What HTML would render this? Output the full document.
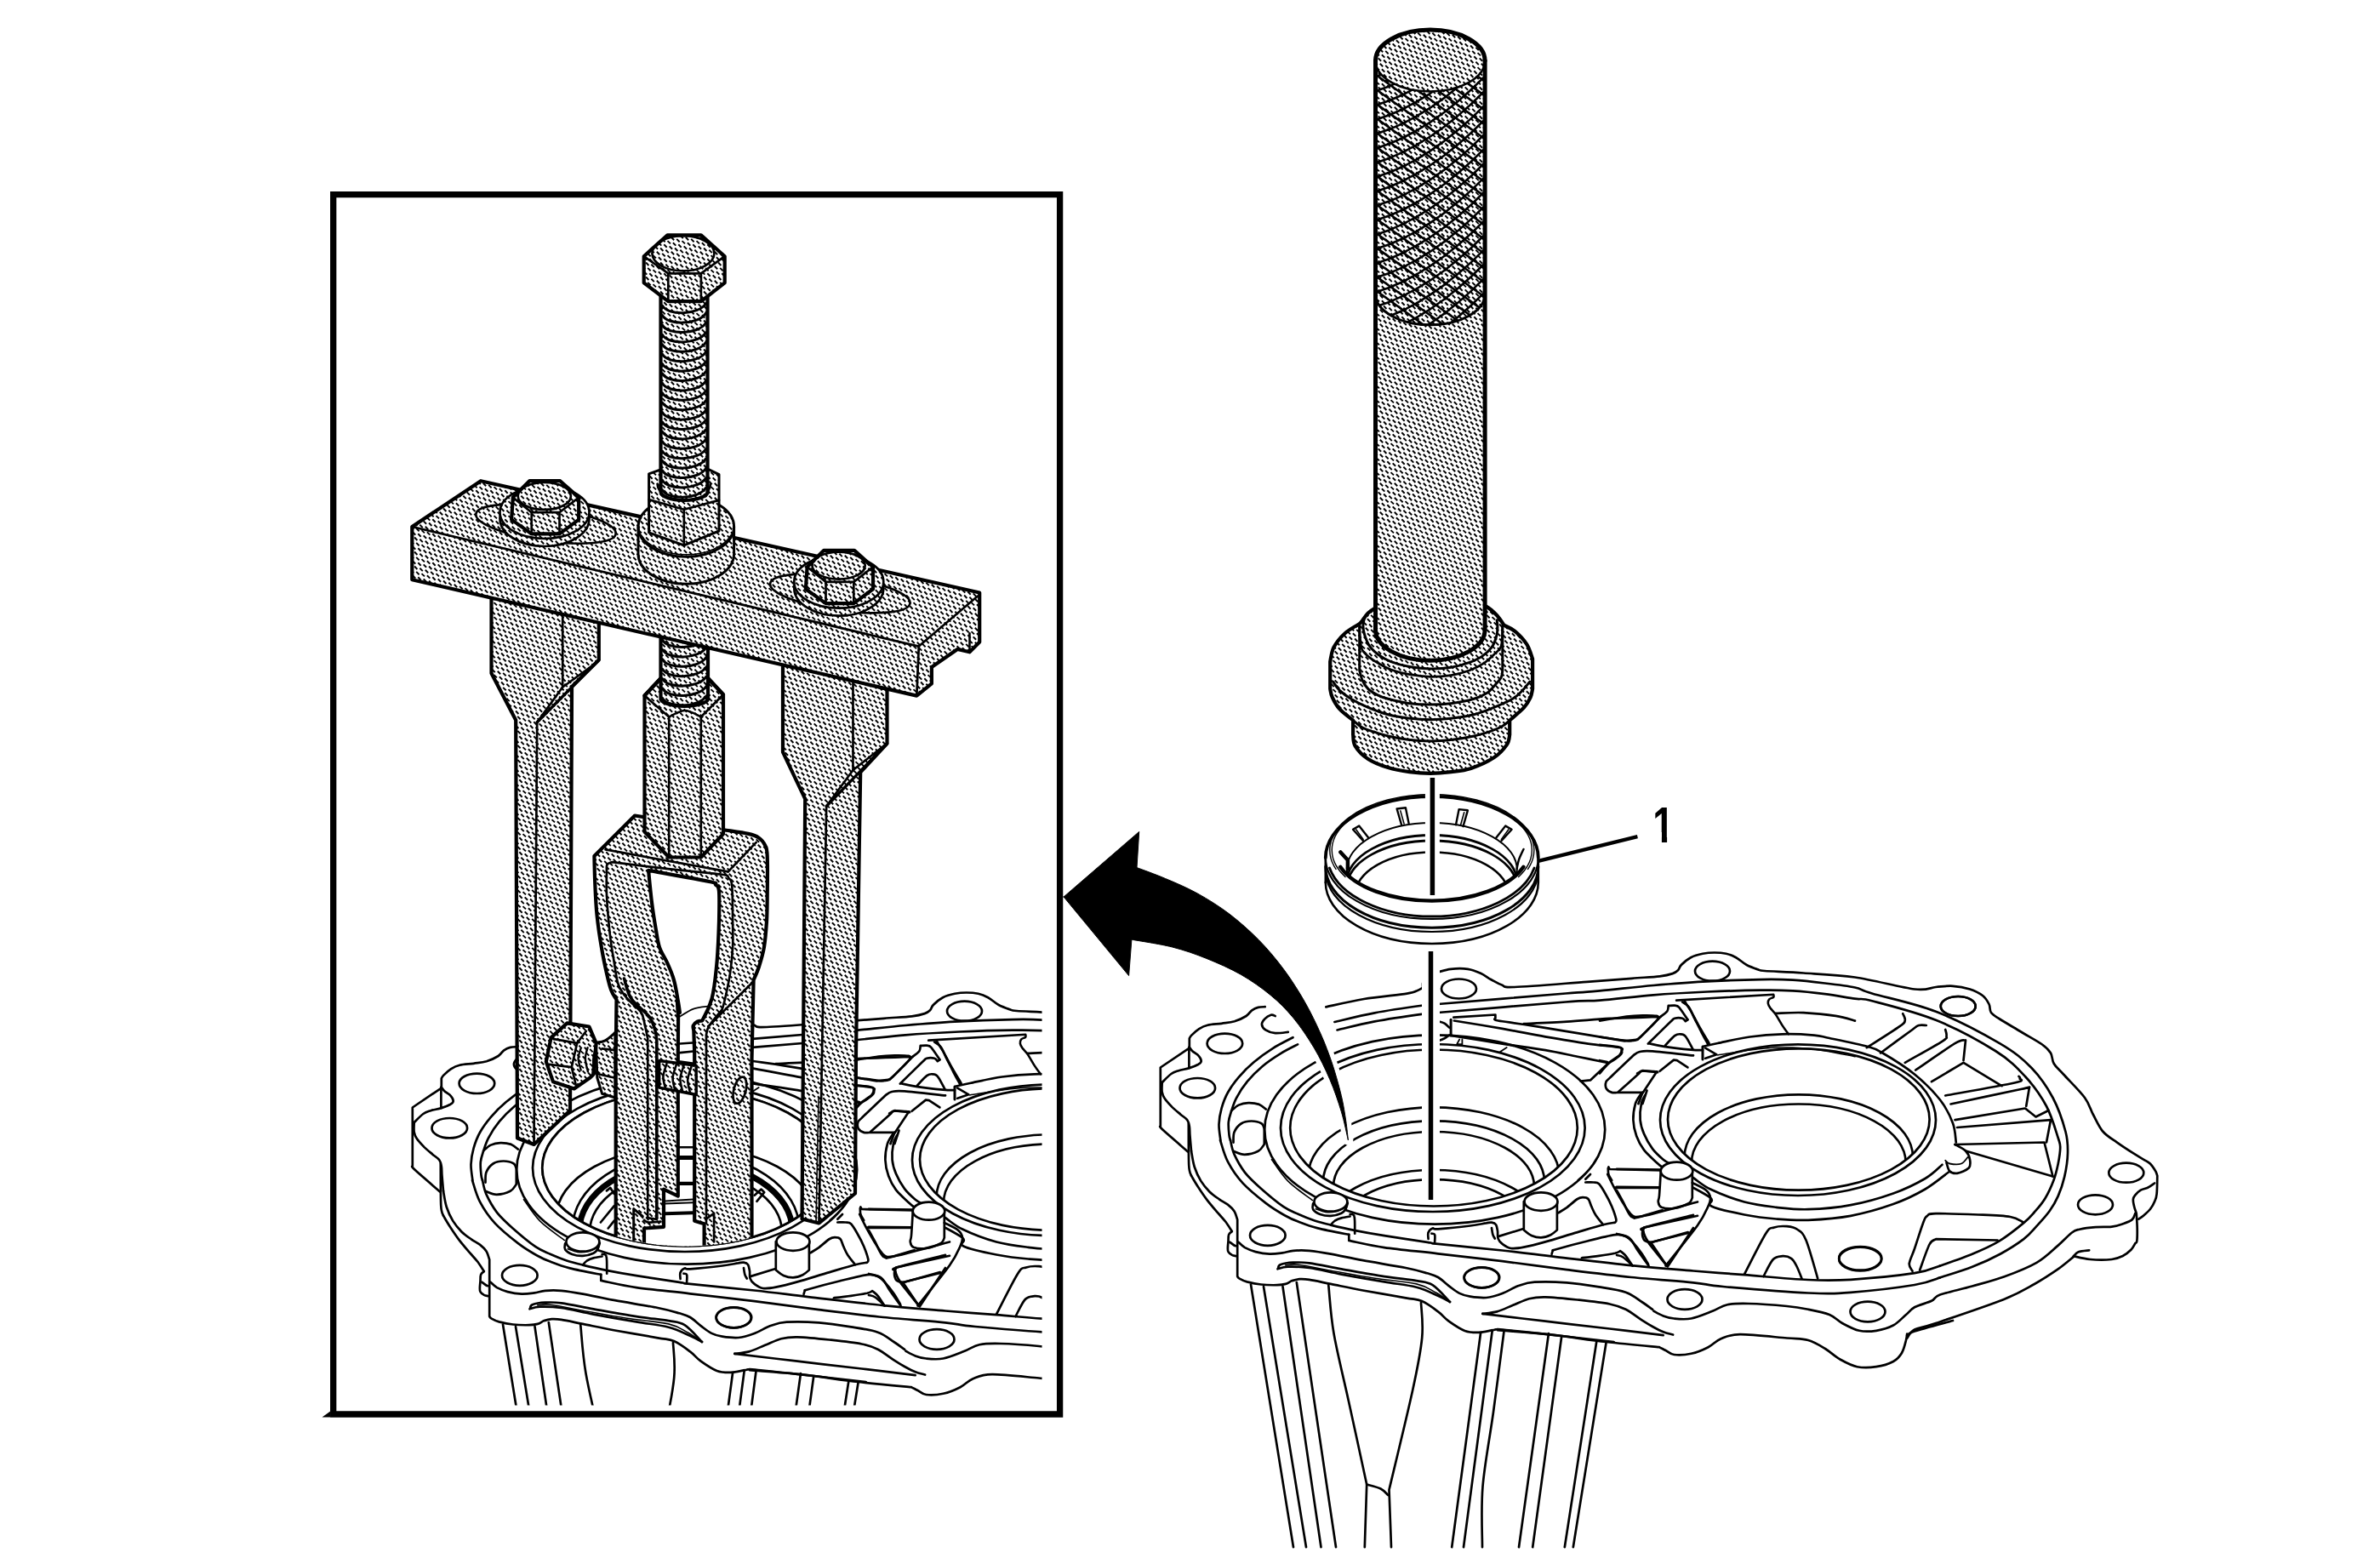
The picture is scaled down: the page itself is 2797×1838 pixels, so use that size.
<!DOCTYPE html><html><head><meta charset="utf-8"><title>diagram</title><style>html,body{margin:0;padding:0;background:#fff}svg{display:block}text{font-family:"Liberation Sans",sans-serif;font-weight:bold}</style></head><body>
<svg xmlns="http://www.w3.org/2000/svg" width="2797" height="1838" viewBox="0 0 2797 1838" fill="none" stroke="#000" stroke-width="2.7" stroke-linecap="round" stroke-linejoin="round">
<defs><pattern id="h" width="17" height="17" patternUnits="userSpaceOnUse"><rect width="17" height="17" fill="#fff" stroke="none"/><path d="M-6 2.5L-2.5 6M-6 19.6L-2.5 22.9M-3.8 8.9L-0.4 12.3M-1.7 -1.7L1.7 1.7M-1.7 15.3L1.7 18.7M0.4 4.7L3.8 8.1M2.5 -6L6 -2.5M2.5 11.1L6 14.4M4.7 0.4L8.1 3.8M4.7 17.4L8.1 20.8M6.8 6.8L10.2 10.2M8.9 -3.8L12.3 -0.4M8.9 13.2L12.3 16.6M11.1 2.5L14.4 6M11.1 19.6L14.4 22.9M13.2 8.9L16.6 12.3M15.3 -1.7L18.7 1.7M15.3 15.3L18.7 18.7M17.4 4.7L20.8 8.1M19.6 -6L22.9 -2.5M19.6 11.1L22.9 14.4" stroke="#000" stroke-width="1.95" stroke-linecap="butt" fill="none"/></pattern>
<clipPath id="cin"><rect x="395" y="232" width="829.5" height="1419.5"/></clipPath>
<g id="case"><path d="M1486.7 1183.2C1485.3 1183.3 1481.1 1183.1 1478.5 1183.9C1475.9 1184.6 1473.2 1186 1470.9 1187.6C1468.6 1189.3 1468 1191.8 1464.6 1194C1461.3 1196.1 1455.6 1198.8 1450.8 1200.3C1445.9 1201.7 1440.9 1202 1435.6 1202.8C1430.4 1203.5 1423.7 1203.6 1419.2 1204.7C1414.8 1205.7 1412.3 1207.1 1409.2 1209.1C1406 1211.1 1402.2 1214.7 1400.3 1216.6C1398.4 1218.5 1398.2 1219.8 1397.8 1220.4L1397.8 1230.5C1398.4 1231.3 1399.8 1233.9 1401.6 1235.5C1403.4 1237.2 1406.9 1238.7 1408.5 1240.6C1410.2 1242.5 1411.7 1245.2 1411.7 1246.9C1411.7 1248.6 1410.8 1249.3 1408.5 1250.7C1406.2 1252 1401.7 1253.8 1397.8 1255.1C1393.9 1256.3 1388.8 1257.1 1385.2 1258.2C1381.6 1259.4 1379.6 1259.7 1376.4 1262C1373.1 1264.3 1367.5 1270.4 1365.7 1272.1"/>
<path d="M1397.4 1230.5L1397.4 1255.1"/>
<path d="M1397.4 1231.8L1363.8 1254.5L1363.8 1323.2C1364.2 1323.9 1360.9 1322.5 1366.3 1327.6C1371.7 1332.6 1391 1349.1 1395.9 1353.4"/>
<path d="M1365.7 1272.1C1365.7 1274 1365.1 1280.3 1365.7 1283.5C1366.2 1286.6 1366.8 1288.1 1368.8 1291C1370.8 1294 1374.5 1297.9 1377.6 1301.1C1380.8 1304.2 1384.8 1307.4 1387.7 1309.9C1390.7 1312.4 1393.6 1313.9 1395.3 1316.2C1397 1318.5 1397.3 1320.8 1397.8 1323.8C1398.3 1326.7 1398.1 1329.1 1398.4 1333.9C1398.8 1338.7 1399.7 1349.5 1400 1352.6"/>
<path d="M1396.8 1320.6C1396.9 1328.7 1396.7 1359 1397.2 1369.2C1397.7 1379.3 1399.5 1379.5 1400 1381.6"/>
<ellipse cx="1439.4" cy="1226.3" rx="20.8" ry="11.7"/>
<ellipse cx="1407.3" cy="1278.7" rx="20.8" ry="11.7"/>
<path d="M1498.7 1194C1497.8 1193.7 1495.7 1192.1 1493.6 1192.7C1491.5 1193.3 1487.8 1195.8 1486.1 1197.7C1484.3 1199.6 1482.7 1201.9 1482.9 1204C1483.1 1206.1 1484.7 1208.7 1487.3 1210.3C1489.9 1212 1494.2 1213.7 1498.7 1214.1C1503.1 1214.5 1511.3 1213.1 1513.8 1212.9"/>
<path d="M1519.5 1219.2C1515.6 1221.3 1503.8 1226.9 1496.1 1231.8C1488.5 1236.6 1480.2 1242.5 1473.5 1248.2C1466.7 1253.8 1460.8 1259.9 1455.8 1265.8C1450.8 1271.7 1446.6 1277.4 1443.2 1283.5C1439.8 1289.5 1437.4 1296.1 1435.6 1302.4C1433.8 1308.7 1432.7 1315 1432.5 1321.3C1432.3 1327.6 1434.1 1337 1434.4 1340.2"/>
<path d="M1525.1 1227.4C1521.8 1229.1 1511.9 1233.8 1505 1238.1C1498 1242.4 1490 1247.7 1483.5 1253.2C1477 1258.7 1470.9 1264.8 1465.9 1270.8C1460.8 1276.9 1456.4 1283.9 1453.3 1289.8C1450.1 1295.6 1448.6 1301.3 1447 1306.1C1445.4 1311 1444.2 1314.1 1443.8 1318.7C1443.4 1323.4 1444.1 1330.3 1444.5 1333.9C1444.8 1337.4 1445.7 1339 1446 1340"/>
<path d="M1447 1305.5C1448.4 1304.4 1452.4 1300.2 1455.8 1298.6C1459.2 1297 1463.2 1296.2 1467.1 1296.1C1471.1 1296 1476.3 1296.7 1479.8 1297.9C1483.2 1299.2 1486.6 1302.7 1487.9 1303.6"/>
<path d="M1449.5 1342.7C1449.7 1340.7 1449 1334.3 1450.5 1330.6C1452 1326.9 1455.2 1322.7 1458.6 1320.5C1461.9 1318.3 1466.6 1317.5 1470.7 1317.5C1474.7 1317.5 1480.3 1319 1482.8 1320.5C1485.3 1322 1485.3 1325.6 1485.8 1326.6L1485.8 1344.7C1484.6 1346.1 1482.6 1350.8 1478.7 1352.8C1474.9 1354.8 1467.5 1356.8 1462.6 1356.8C1457.7 1356.8 1451.7 1353.5 1449.5 1352.8"/>
<ellipse cx="1686.2" cy="1327.5" rx="200" ry="111.2"/>
<ellipse cx="1683.8" cy="1325.5" rx="178.8" ry="98.5"/>
<ellipse cx="1685" cy="1325.5" rx="168.8" ry="92"/>
<clipPath id="e3"><ellipse cx="1685.0" cy="1325.5" rx="168.8" ry="92.0"/></clipPath>
<g clip-path="url(#e3)"><ellipse cx="1685" cy="1381.8" rx="147.5" ry="80.5"/><ellipse cx="1685" cy="1388.2" rx="130" ry="70.8"/><ellipse cx="1685" cy="1394.2" rx="118" ry="64.2"/><ellipse cx="1685" cy="1445.8" rx="130" ry="70.8"/><ellipse cx="1685" cy="1449" rx="115" ry="62.8"/></g>
<ellipse cx="2113" cy="1316.2" rx="162" ry="88.8"/>
<ellipse cx="2113.8" cy="1315.5" rx="153.8" ry="83.2"/>
<clipPath id="f3"><ellipse cx="2113.8" cy="1315.5" rx="153.8" ry="83.2"/></clipPath>
<g clip-path="url(#f3)"><ellipse cx="2113.8" cy="1359.5" rx="134.2" ry="73.2"/><ellipse cx="2113.8" cy="1366" rx="125.8" ry="68.5"/></g>
<path d="M1400 1381.6C1401.3 1383.7 1404.4 1389.4 1407.6 1394.2C1410.7 1399 1414.9 1405.3 1418.9 1410.6C1422.9 1415.8 1427.9 1421.5 1431.5 1425.7C1435.1 1429.9 1437.6 1432.2 1440.3 1435.8C1443.1 1439.4 1446.6 1445.3 1447.9 1447.1C1447.3 1447.8 1444.9 1449 1444.1 1450.9C1443.4 1452.8 1443.7 1456 1443.5 1458.5C1443.3 1461 1442.9 1464 1442.9 1466.1C1442.9 1468.2 1442.6 1469.6 1443.5 1471.1C1444.3 1472.6 1446.4 1474 1447.9 1474.9C1449.4 1475.7 1451.6 1475.9 1452.3 1476.1"/>
<path d="M1445.4 1459.8C1446.2 1460.4 1449.3 1462.8 1450.4 1463.5C1451.6 1464.3 1452 1464.1 1452.3 1464.2"/>
<path d="M1434 1340C1435.5 1344.2 1438.4 1356.8 1442.9 1365.2C1447.3 1373.6 1452.9 1382.2 1460.5 1390.4C1468.1 1398.6 1480 1408.1 1488.2 1414.4C1496.4 1420.7 1503.4 1424.7 1509.7 1428.2C1516 1431.8 1519.5 1433.3 1526.1 1435.8C1532.6 1438.3 1538.9 1440.8 1548.7 1443.4C1558.6 1445.9 1579.2 1449.7 1585.3 1450.9"/>
<path d="M1494.5 1362.7C1497.7 1366.9 1505.5 1379.9 1513.5 1387.9C1521.4 1395.9 1537.6 1406.8 1542.4 1410.6" stroke-width="1.6"/>
<path d="M1543.1 1414.4C1543.1 1415.5 1541.7 1419.2 1543.1 1421.3C1544.4 1423.4 1547.8 1425.7 1551.3 1427C1554.7 1428.2 1559.7 1429.1 1563.9 1428.9C1568.1 1428.7 1573.5 1427.1 1576.5 1425.7C1579.4 1424.4 1580.3 1422.7 1581.5 1420.7C1582.7 1418.7 1583.4 1414.9 1583.8 1413.7L1543.1 1414.4Z" fill="#fff"/>
<ellipse cx="1563.9" cy="1412.5" rx="19.5" ry="11.1" fill="#fff"/>
<path d="M1546.2 1420.7C1548.1 1421.3 1553.6 1423.9 1557.6 1424.5C1561.6 1425 1566.4 1424.8 1570.2 1423.8C1574 1422.9 1578.6 1419.6 1580.3 1418.8" stroke-width="1.6"/>
<path d="M1563.9 1439.6C1564.7 1438.7 1566.8 1435.9 1568.9 1434.5C1571 1433.2 1573.5 1432.2 1576.5 1431.4C1579.4 1430.6 1584.9 1429.8 1586.6 1429.5"/>
<path d="M1586.6 1427C1587.4 1427.4 1590.7 1425.7 1591.6 1429.5C1592.6 1433.3 1592.1 1446.3 1592.2 1449.7"/>
<ellipse cx="1489.8" cy="1451.8" rx="20.8" ry="12"/>
<path d="M1682.4 1449.7C1683 1449.9 1685.5 1449.2 1686.1 1450.9C1686.8 1452.6 1686.1 1458.3 1686.1 1459.8"/>
<path d="M1753 1443C1753.2 1444.3 1753.7 1448.5 1754.3 1450.6C1754.9 1452.7 1756.4 1454.8 1756.8 1455.6"/>
<path d="M1760.6 1453.1L1789.6 1444.3"/>
<path d="M1831.2 1425.4C1832.9 1424.3 1837.5 1421.8 1841.3 1419.1C1845 1416.3 1850.7 1411 1853.9 1409C1857 1407 1858.1 1407.1 1860.2 1407.1C1862.3 1407.1 1864.8 1407.2 1866.5 1409C1868.2 1410.8 1868.8 1414.7 1870.3 1417.8C1871.7 1421 1873 1424.3 1875.3 1427.9C1877.6 1431.5 1882.7 1437.4 1884.1 1439.2"/>
<path d="M1823.6 1473.9C1823.8 1473.3 1824 1471.1 1824.9 1470.1C1825.7 1469.2 1821.7 1470.2 1828.7 1468.2C1835.6 1466.2 1854.9 1461 1866.5 1458.2C1878 1455.3 1890.6 1452.1 1898 1451.2C1905.3 1450.4 1907 1451.5 1910.6 1453.1C1914.2 1454.7 1916.3 1457.3 1919.4 1460.7C1922.6 1464 1926.6 1469.1 1929.5 1473.3C1932.4 1477.5 1935.8 1483.8 1937.1 1485.9"/>
<path d="M1858.9 1478.3C1862.3 1477.9 1872.6 1476.7 1879.1 1475.8C1885.6 1474.9 1893.8 1473.6 1898 1472.7C1902.2 1471.7 1903.2 1470.6 1904.3 1470.1C1905.3 1471.1 1908.3 1473 1910.6 1475.8C1912.9 1478.6 1916.9 1485.3 1918.2 1487.1"/>
<path d="M1990 1427.9C1980.6 1430.3 1943.1 1439.2 1933.3 1442.4C1923.5 1445.5 1931.4 1445 1931.4 1446.8C1931.4 1448.6 1932.1 1450.6 1933.3 1453.1C1934.4 1455.6 1937.5 1460.5 1938.3 1461.9L1958.5 1487.1"/>
<path d="M1938.3 1460.7L1983.7 1448.1"/>
<path d="M1990 1443L1959.8 1488.4"/>
<path d="M1889.2 1380C1890.4 1382.5 1893.8 1389.7 1896.7 1395.1C1899.7 1400.6 1903.9 1407.9 1906.8 1412.8C1909.8 1417.6 1912.1 1421.3 1914.4 1424.1C1916.7 1427 1918.2 1429 1920.7 1429.8C1923.2 1430.6 1924 1430.4 1929.5 1429.2C1935 1427.9 1949.5 1423.4 1953.5 1422.2"/>
<path d="M1898 1395.8L1949.7 1395.8" stroke-width="3"/>
<path d="M1863.3 1385.7L1869 1380"/>
<ellipse cx="1741.4" cy="1501.3" rx="20.8" ry="12"/>
<path d="M1742.3 1543.9C1745.1 1543.5 1753.3 1543 1759.3 1541.4C1765.3 1539.7 1771.9 1536.3 1778.2 1533.8C1784.5 1531.3 1790.8 1527.8 1797.1 1526.2C1803.5 1524.6 1806.6 1524.1 1816.1 1524.3C1825.5 1524.5 1841.3 1526.1 1853.9 1527.5C1866.5 1528.9 1882.2 1530.6 1891.7 1532.5C1901.1 1534.4 1904.3 1535.7 1910.6 1538.8C1916.9 1542 1924.3 1548.1 1929.5 1551.4C1934.8 1554.8 1937.9 1556.7 1942.1 1559C1946.3 1561.3 1950.7 1563.7 1954.7 1565.3C1958.7 1566.9 1964.2 1567.9 1966.1 1568.5"/>
<path d="M1742.3 1543.9C1754.6 1545.3 1791.2 1549.8 1816.1 1552.7C1841 1555.6 1868.6 1558.8 1891.7 1561.5C1914.8 1564.3 1944.2 1567.8 1954.7 1569.1"/>
<path d="M1790.8 1412.1L1790.8 1445.5C1792.3 1446.6 1796.3 1450.4 1799.7 1451.9C1803 1453.3 1807.2 1454.5 1811 1454.4C1814.8 1454.3 1819.2 1452.7 1822.4 1451.2C1825.5 1449.8 1828.7 1446.5 1829.9 1445.5L1829.9 1412.1L1790.8 1412.1Z" fill="#fff"/>
<ellipse cx="1811" cy="1412.1" rx="19.5" ry="10.7" fill="#fff"/>
<path d="M1400 1352.6C1400.6 1355.8 1401.9 1365.6 1403.8 1371.5C1405.7 1377.4 1408.4 1383.1 1411.3 1387.9C1414.3 1392.7 1417.9 1396.9 1421.4 1400.5C1425 1404.1 1429.2 1406.8 1432.8 1409.3C1436.3 1411.9 1439.9 1413.3 1442.9 1415.6C1445.8 1417.9 1448.5 1420.3 1450.4 1423.2C1452.3 1426.1 1453.6 1431.6 1454.2 1433.3L1454.2 1500.1C1454.6 1500.5 1454.8 1501.6 1456.7 1502.6C1458.6 1503.7 1461.3 1505.2 1465.5 1506.4C1469.8 1507.5 1476.1 1508.9 1481.9 1509.5C1487.8 1510.2 1496 1510.3 1500.8 1510.2C1505.7 1510.1 1508 1509.8 1510.9 1508.9C1513.9 1508.1 1515.8 1506.1 1518.5 1505.1C1521.2 1504.2 1524 1503.5 1527.3 1503.2C1530.7 1503 1532.6 1502.9 1538.7 1503.9C1544.8 1504.8 1553.4 1506.8 1563.9 1508.9C1574.4 1511 1587 1513.7 1601.7 1516.5C1616.4 1519.2 1640.6 1523.2 1652.1 1525.3C1663.7 1527.4 1664.7 1526.4 1671 1529.1C1677.3 1531.8 1684.7 1537.4 1690 1541.4C1695.3 1545.3 1697.4 1548.9 1702.6 1552.7C1707.9 1556.5 1715.6 1561.8 1721.5 1564C1727.4 1566.2 1732.6 1566 1737.9 1565.9C1743.2 1565.8 1749.5 1564 1753 1563.4C1756.6 1562.8 1756.8 1562.3 1759.3 1562.2C1761.9 1562 1766.7 1562.7 1768.2 1562.8C1776.1 1563.6 1794.6 1565.4 1816.1 1567.8C1837.5 1570.2 1883.3 1575.6 1896.7 1577.2"/>
<path d="M1446 1340C1446.7 1342.7 1447.6 1350.1 1450.4 1356.4C1453.3 1362.7 1457.8 1371.1 1463 1377.8C1468.3 1384.5 1474.4 1390 1481.9 1396.7C1489.5 1403.4 1501.1 1413.1 1508.4 1418.2C1515.8 1423.2 1520 1424.2 1526.1 1427C1532.1 1429.7 1538.7 1432.4 1545 1434.5C1551.3 1436.6 1556.1 1437.7 1563.9 1439.6C1571.6 1441.5 1581.1 1443.8 1591.6 1445.9C1602.1 1448 1612.6 1449.9 1626.9 1452.2C1641.2 1454.5 1666.8 1458.1 1677.3 1459.8C1687.8 1461.4 1675.3 1460.3 1690 1461.9C1704.7 1463.6 1742.5 1467 1765.6 1469.5C1788.7 1472 1803.5 1474.1 1828.7 1477.1C1853.9 1480 1890 1484.4 1916.9 1487.1C1943.8 1489.9 1967.8 1491.6 1990 1493.5C2012.2 1495.3 2027.5 1496.5 2050 1498.2C2072.5 1500 2104.2 1503.1 2125 1504C2145.8 1504.9 2154.2 1505 2175 1503.8C2195.8 1502.5 2232.5 1498.9 2250 1496.2C2267.5 1493.6 2275 1489 2280 1487.6"/>
<path d="M1585.3 1450.9L1585.3 1457.9C1592.2 1459.2 1609.5 1463.5 1626.9 1466.1C1644.3 1468.6 1666.9 1470.6 1690 1473.3C1713.1 1476 1740.4 1479 1765.6 1482.1C1790.8 1485.3 1816.1 1489 1841.3 1492.2C1866.5 1495.3 1892.1 1498.5 1916.9 1501C1941.7 1503.5 1972 1505.5 1990 1507.3C2008 1509.1 2002.5 1510 2025 1512C2047.5 1514 2100 1518.4 2125 1519.5C2150 1520.6 2154.2 1520.3 2175 1518.8C2195.8 1517.2 2232.5 1512.9 2250 1510C2267.5 1507.1 2275 1502.9 2280 1501.4"/>
<path d="M1455.5 1459.8C1456.7 1460.8 1459.7 1464.2 1463 1466.1C1466.4 1467.9 1470.8 1469.8 1475.6 1471.1C1480.5 1472.4 1486.8 1473.4 1492 1473.6C1497.3 1473.8 1502.5 1473 1507.1 1472.4C1511.8 1471.7 1514.5 1470.3 1519.8 1469.8C1525 1469.4 1531.3 1469.2 1538.7 1469.8C1546 1470.5 1553.4 1471.7 1563.9 1473.6C1574.4 1475.5 1587 1478.5 1601.7 1481.2C1616.4 1483.9 1639.5 1487.5 1652.1 1490C1664.7 1492.5 1671 1494.5 1677.3 1496.3C1683.6 1498.1 1685.8 1498.5 1690 1501C1694.2 1503.5 1698.4 1507.9 1702.6 1511.1C1706.8 1514.2 1711 1517.8 1715.2 1519.9C1719.4 1522 1722.6 1522.9 1727.8 1523.7C1733.1 1524.5 1740.4 1525.6 1746.7 1525C1753 1524.3 1759.3 1522.2 1765.6 1519.9C1771.9 1517.6 1778.2 1513.3 1784.5 1511.1C1790.8 1508.9 1794 1507.3 1803.5 1506.7C1812.9 1506.1 1828.7 1506.4 1841.3 1507.3C1853.9 1508.3 1867.5 1510.5 1879.1 1512.4C1890.6 1514.2 1902.2 1515.7 1910.6 1518.7C1919 1521.6 1924.3 1526.6 1929.5 1530C1934.8 1533.4 1940 1537.4 1942.1 1538.8"/>
<path d="M1502.1 1490.6C1502.5 1489.9 1501.7 1487.4 1504.6 1486.2C1507.6 1485.1 1514.1 1484 1519.8 1483.7C1525.4 1483.4 1529.2 1483.1 1538.7 1484.3C1548.1 1485.6 1561.8 1488.6 1576.5 1491.3C1591.2 1493.9 1612.2 1497.8 1626.9 1500.1C1641.6 1502.4 1655.3 1503.5 1664.7 1505.1C1674.2 1506.8 1677.1 1506 1683.6 1510.2C1690.2 1514.3 1700.6 1526.7 1704 1530"/>
<path d="M1501.5 1491.3C1503.5 1490.8 1507.3 1489 1513.5 1488.7C1519.6 1488.5 1528.2 1488.5 1538.7 1490C1549.2 1491.5 1561.8 1494.8 1576.5 1497.6C1591.2 1500.3 1612.2 1503.9 1626.9 1506.4C1641.6 1508.9 1654.2 1510 1664.7 1512.7C1675.2 1515.4 1683.4 1519.9 1689.9 1522.8C1696.5 1525.7 1701.7 1528.8 1704 1530"/>
<path d="M1510.9 1486.9C1513.5 1486.7 1517.2 1485.2 1526.1 1486.2C1534.9 1487.3 1549.2 1490.5 1563.9 1493.2C1578.6 1495.8 1597.5 1499.4 1614.3 1502C1631.1 1504.6 1652.5 1506.1 1664.7 1508.9C1676.9 1511.8 1680.9 1515.5 1687.4 1519C1694 1522.5 1701.2 1528.2 1704 1530" stroke-width="1.6"/>
<path d="M1678.6 1456C1678.6 1454.7 1677.7 1450.5 1678.6 1448.4C1679.4 1446.3 1681.7 1444.1 1683.6 1443.4C1685.5 1442.7 1682.6 1444.8 1690 1444.3C1697.4 1443.8 1718.4 1441.7 1727.8 1440.5C1737.3 1439.4 1742.5 1438 1746.7 1437.4C1750.9 1436.7 1751.1 1436.4 1753 1436.7C1754.9 1437 1756.9 1437.6 1758.1 1439.2C1759.2 1440.9 1759.5 1444.1 1760 1446.8C1760.4 1449.5 1759.6 1453.1 1760.6 1455.6C1761.5 1458.2 1763.1 1460 1765.6 1461.9C1768.2 1463.8 1771.5 1466.3 1775.7 1467C1779.9 1467.6 1784.1 1467 1790.8 1465.7C1797.6 1464.5 1805.6 1462.4 1816.1 1459.4C1826.6 1456.5 1842.5 1451.4 1853.9 1448.1C1865.2 1444.7 1876.8 1441.1 1884.1 1439.2C1891.5 1437.4 1895.7 1437.1 1898 1436.7C1898.2 1436.1 1899.9 1436.1 1899.3 1432.9C1898.6 1429.8 1896.3 1422.9 1894.2 1417.8C1892.1 1412.8 1889.2 1407.1 1886.6 1402.7C1884.1 1398.3 1881.4 1393.6 1879.1 1391.3C1876.8 1389.1 1875.4 1389.8 1872.8 1389.5C1870.2 1389.1 1864.9 1389.5 1863.3 1389.5"/>
<path d="M1690 1200.1C1691.3 1200.5 1695.4 1201.3 1697.6 1202.6C1699.8 1203.9 1702.3 1206.8 1703.2 1207.6"/>
<path d="M1703.2 1216.5C1702.3 1217.1 1699.8 1219.1 1697.6 1220.3C1695.4 1221.4 1691.3 1222.9 1690 1223.4"/>
<path d="M1705.1 1198.2L1705.1 1217.1" stroke-width="3"/>
<path d="M1790.8 1203.2C1799.2 1202.8 1824.5 1201.8 1841.3 1200.7C1858.1 1199.7 1874 1197.9 1891.7 1196.9C1909.3 1196 1937.9 1195.4 1947.2 1195C1947.4 1195.5 1951.6 1193.7 1948.4 1197.6C1945.3 1201.5 1932.9 1214.3 1928.2 1218.4C1923.6 1222.5 1923.8 1221.3 1920.7 1222.1C1917.5 1223 1911.2 1223.2 1909.3 1223.4C1891.7 1220.5 1828.2 1209.7 1803.5 1205.8C1778.7 1201.8 1768.3 1201 1760.6 1199.5C1752.9 1197.9 1758 1196.8 1757.4 1196.3L1757.4 1192.5L1708.3 1195.7"/>
<path d="M1708.9 1199.5C1718.4 1201 1747.8 1205.8 1765.6 1208.9C1783.5 1212.1 1799.2 1215.4 1816.1 1218.4C1832.9 1221.3 1852 1224.5 1866.5 1226.6C1881 1228.7 1896.5 1229.5 1903 1231C1909.5 1232.4 1905.6 1233.8 1905.6 1235.4C1905.6 1237 1903.5 1239.6 1903 1240.4L1890.4 1249.2L1869 1269.4L1857.7 1270.7"/>
<path d="M1706.4 1217.1C1716.3 1218.7 1747.4 1223.7 1765.6 1226.6C1783.9 1229.4 1801.3 1231.6 1816.1 1234.1C1830.8 1236.6 1841.5 1239.2 1853.9 1241.7C1866.3 1244.2 1884.3 1248 1890.4 1249.2"/>
<path d="M1715.2 1221.5L1712.1 1227.2L1718.4 1227.2L1718.4 1221.5" stroke-width="1.8"/>
<path d="M1770.7 1231L1763.1 1236" stroke-width="1.8"/>
<path d="M1990 1240.4C1982 1239.6 1952.6 1236.1 1942.1 1235.4C1931.6 1234.6 1930.8 1235.2 1927 1236C1923.2 1236.9 1920.7 1239.7 1919.4 1240.4C1914.8 1244.8 1897 1261.6 1891.7 1266.9C1886.3 1272.1 1887.9 1269.8 1887.3 1271.9C1886.6 1274 1886.8 1277.5 1887.9 1279.5C1889.1 1281.5 1891.9 1283.2 1894.2 1283.9C1896.5 1284.6 1900.5 1283.9 1901.8 1283.9L1930.8 1283.9"/>
<path d="M1901.8 1283.3C1905.6 1279.9 1919.8 1267.2 1924.5 1263.1C1929.1 1259 1925.7 1259.3 1929.5 1258.7C1933.3 1258.1 1944.2 1259.2 1947.2 1259.3"/>
<path d="M1947.2 1259.3L1930.8 1283.9"/>
<path d="M1928.2 1285.8C1927.2 1287.7 1923.4 1292.1 1921.9 1297.1C1920.5 1302.2 1919.2 1309.8 1919.4 1316.1C1919.6 1322.4 1921.1 1329.1 1923.2 1335C1925.3 1340.8 1928 1346.1 1932 1351.4C1936 1356.6 1943.4 1362.9 1947.2 1366.5C1950.9 1370 1953.5 1371.7 1954.7 1372.8"/>
<path d="M1933.3 1287.1C1932.6 1288.7 1929.8 1292.3 1928.9 1297.1C1927.9 1302 1927.1 1310.2 1927.6 1316.1C1928.1 1321.9 1929.6 1326.8 1932 1332.4C1934.4 1338.1 1938.3 1345 1942.1 1350.1C1945.9 1355.1 1950.9 1359.5 1954.7 1362.7C1958.5 1365.8 1963.1 1367.9 1964.8 1369"/>
<path d="M1890.4 1371.5L1891.7 1374L1952.2 1375.3"/>
<path d="M1889.8 1372.8C1889.9 1374 1889.7 1377.9 1890.4 1380.3C1891.2 1382.7 1893.6 1386 1894.2 1387.2"/>
<path d="M1879.1 1357.7C1877.8 1359.8 1875.7 1365.3 1871.5 1370.3C1867.3 1375.2 1856.8 1384.3 1853.9 1387.2" stroke-width="1.6"/>
<path d="M1558.3 1183.4C1565.8 1181.8 1587.1 1176.6 1603 1174C1618.9 1171.4 1643 1169.3 1653.5 1167.6C1664 1165.9 1662.9 1165.1 1666 1163.9C1669.1 1162.8 1671 1161.2 1672 1160.7L1672 1155.7"/>
<path d="M1690 1142.5C1692.5 1141.9 1699.2 1139.4 1705 1138.8C1710.8 1138.1 1719.2 1137.9 1725 1138.8C1730.8 1139.6 1735.4 1141.7 1740 1143.8C1744.6 1145.8 1748.3 1149 1752.5 1151.2C1756.7 1153.5 1760.4 1156 1765 1157.5C1769.6 1159 1763.3 1160.6 1780 1160C1796.7 1159.4 1842 1155.5 1865 1153.8C1888 1152 1903.6 1150.9 1917.8 1149.8C1932.1 1148.7 1942.6 1148.2 1950.6 1147.3C1958.6 1146.3 1962.1 1145.3 1965.7 1144.1C1969.3 1143 1970.3 1142 1972 1140.3C1973.7 1138.7 1973.3 1136.6 1975.8 1134C1978.3 1131.5 1982.9 1127.4 1987.1 1125.2C1991.3 1123 1996.4 1121.7 2001 1120.8C2005.6 1119.9 2010.3 1119.5 2014.9 1119.5C2019.5 1119.5 2024.5 1119.9 2028.7 1120.8C2032.9 1121.7 2036.1 1123 2040.1 1125.2C2044.1 1127.4 2048.5 1131.7 2052.7 1134C2056.9 1136.3 2061.7 1137.9 2065.3 1139.1C2068.9 1140.2 2065.1 1140.2 2074.1 1141C2083.2 1141.7 2101.9 1142.2 2119.5 1143.5C2137.2 1144.7 2158.3 1145.4 2180 1148.5C2201.8 1151.7 2234.2 1160.6 2250 1162.5C2265.8 1164.4 2267.5 1160.6 2275 1160C2282.5 1159.4 2288.3 1158.3 2295 1158.8C2301.7 1159.2 2309.2 1160.6 2315 1162.5C2320.8 1164.4 2326.2 1167.1 2330 1170C2333.8 1172.9 2335.8 1176.7 2337.5 1180C2339.2 1183.3 2337.9 1187.1 2340 1190C2342.1 1192.9 2344.2 1193.8 2350 1197.5C2355.8 1201.2 2366.7 1207.5 2375 1212.5C2383.3 1217.5 2394.2 1223.3 2400 1227.5C2405.8 1231.7 2407.7 1233.8 2410 1237.5C2412.3 1241.2 2411.2 1245.8 2413.8 1250C2416.2 1254.2 2419 1255.8 2425 1262.5C2431 1269.2 2444.2 1282.1 2450 1290C2455.8 1297.9 2456.4 1303.3 2460 1310C2463.6 1316.7 2466.9 1324.6 2471.6 1330C2476.3 1335.4 2482.1 1338.4 2488 1342.6C2493.9 1346.8 2501.6 1351.8 2506.9 1355.2C2512.2 1358.6 2516.1 1360.7 2519.5 1362.8C2522.9 1364.9 2524.8 1365.5 2527.1 1367.8C2529.4 1370.1 2532 1374.3 2533.4 1376.6C2534.7 1379 2534.9 1380.8 2535.3 1381.7C2535.2 1385.3 2535.2 1398.1 2534.6 1403.1C2534.1 1408.2 2533.4 1409 2532.1 1411.9C2530.9 1414.9 2529.2 1418 2527.1 1420.8C2525 1423.5 2521.8 1426.3 2519.5 1428.3C2517.2 1430.3 2514.3 1432 2513.2 1432.7"/>
<ellipse cx="1714.5" cy="1162" rx="20.5" ry="11.5"/>
<ellipse cx="2012.5" cy="1141.2" rx="20.5" ry="11.5"/>
<path d="M1568.4 1201C1576.3 1199.2 1598.3 1193.5 1615.6 1190.3C1632.9 1187 1660 1183.2 1672.4 1181.5C1684.8 1179.8 1662.1 1182.3 1690 1180C1717.9 1177.7 1808.3 1170.1 1840 1167.5C1871.7 1164.9 1862.8 1165.9 1880 1164.3C1897.2 1162.7 1922.9 1159.8 1943 1158C1963.2 1156.2 1980 1154.7 2001 1153.6C2022 1152.4 2051.4 1151.4 2069.1 1151.1C2086.7 1150.7 2094.3 1150.9 2106.9 1151.7C2119.5 1152.4 2132.5 1154 2144.7 1155.5C2156.9 1156.9 2170.8 1158.5 2180 1160.5C2189.2 1162.5 2184.2 1162.8 2200 1167.5C2215.8 1172.2 2250 1179 2275 1188.8C2300 1198.5 2331.2 1215.2 2350 1226.2C2368.8 1237.3 2377.1 1244.4 2387.5 1255C2397.9 1265.6 2405.8 1277.5 2412.5 1290C2419.2 1302.5 2424.6 1319.1 2427.5 1330C2430.4 1340.9 2430.2 1346.4 2430 1355.2C2429.8 1364 2428.1 1374.5 2426.2 1382.9C2424.3 1391.3 2421.6 1398.9 2418.7 1405.6C2415.7 1412.4 2412.8 1417.4 2408.6 1423.3C2404.4 1429.2 2398.5 1435.5 2393.5 1440.9C2388.4 1446.4 2385.5 1450.6 2378.3 1456.1C2371.2 1461.5 2360.7 1468.2 2350.6 1473.7C2340.5 1479.2 2329.6 1484.2 2317.8 1488.8C2306.1 1493.5 2286.3 1499.3 2280 1501.4"/>
<path d="M1571.5 1210.5C1578.8 1208.8 1598.8 1203.6 1615.6 1200.4C1632.4 1197.2 1660 1193.3 1672.4 1191.6C1684.8 1189.9 1662.1 1192.3 1690 1190C1717.9 1187.7 1808.3 1179.9 1840 1177.5C1871.7 1175.1 1862.8 1177 1880 1175.6C1897.2 1174.3 1922 1171 1943 1169.3C1964 1167.6 1985 1166.5 2006.1 1165.5C2027.1 1164.6 2052.3 1163.9 2069.1 1163.7C2085.9 1163.4 2094.3 1163.6 2106.9 1164.3C2119.5 1165 2132.5 1166.5 2144.7 1168.1C2156.9 1169.6 2170.8 1172.4 2180 1173.7C2189.2 1175.1 2184.2 1172.1 2200 1176.2C2215.8 1180.4 2250.8 1189 2275 1198.8C2299.2 1208.5 2327.5 1224 2345 1235C2362.5 1246 2370 1254.2 2380 1265C2390 1275.8 2398.5 1287.9 2405 1300C2411.5 1312.1 2416.1 1329.3 2418.8 1337.5C2421.4 1345.7 2421.2 1343.9 2421.2 1348.9C2421.2 1354 2419.9 1361.5 2418.7 1367.8C2417.4 1374.1 2416.1 1380 2413.6 1386.7C2411.1 1393.4 2407.3 1401.9 2403.5 1408.2C2399.8 1414.5 2395.1 1419.7 2390.9 1424.5C2386.7 1429.4 2385.3 1431.5 2378.3 1437.1C2371.4 1442.8 2359.4 1452.5 2349.3 1458.6C2339.2 1464.7 2329.4 1468.9 2317.8 1473.7C2306.3 1478.5 2286.3 1485.3 2280 1487.6"/>
<ellipse cx="2301.2" cy="1182.5" rx="20.5" ry="11.5"/>
<path d="M2001 1229.8C2004 1229.2 2009.5 1227.9 2018.7 1226C2028 1224.1 2043.9 1220.3 2056.5 1218.5C2069.1 1216.7 2081.7 1215.6 2094.3 1215.3C2106.9 1215 2122.7 1215.8 2132 1216.6C2141.3 1217.4 2139.5 1217.8 2150 1220C2160.5 1222.2 2184.6 1227.1 2195 1230C2205.4 1232.9 2203.3 1232.1 2212.5 1237.5C2221.7 1242.9 2238.8 1253.3 2250 1262.5C2261.2 1271.7 2272.5 1282.9 2280 1292.5C2287.5 1302.1 2291.9 1311.7 2295 1320C2298.1 1328.3 2298.1 1338.8 2298.8 1342.5"/>
<path d="M2297.5 1345C2299.6 1346.2 2307.1 1349.6 2310 1352.5C2312.9 1355.4 2314.4 1359.2 2315 1362.5C2315.6 1365.8 2316.2 1369.8 2313.8 1372.5C2311.2 1375.2 2303.8 1378.1 2300 1378.8C2296.2 1379.4 2293.3 1378.3 2291.2 1376.2C2289.2 1374.2 2288.1 1367.9 2287.5 1366.2"/>
<path d="M2286.2 1363.8C2287.1 1364.4 2288.1 1366.9 2291.2 1367.5C2294.4 1368.1 2301.5 1368.8 2305 1367.5C2308.5 1366.2 2311.2 1361.2 2312.5 1360" stroke-width="1.8"/>
<path d="M1954.8 1372.8C1958.1 1375.2 1965.8 1381.7 1975 1387.5C1984.2 1393.3 2004 1402.5 2010 1407.5C2016 1412.5 2004.6 1414.2 2011.2 1417.5C2017.9 1420.8 2037.3 1425 2050 1427.5C2062.7 1430 2075 1431.5 2087.5 1432.5C2100 1433.5 2110.4 1434.4 2125 1433.8C2139.6 1433.1 2158.3 1431.9 2175 1428.8C2191.7 1425.6 2210.4 1420.2 2225 1415C2239.6 1409.8 2251.7 1403.8 2262.5 1397.5C2273.3 1391.2 2285.4 1380.8 2290 1377.5"/>
<path d="M1964.8 1369C1968.5 1371.2 1980 1377.8 1987.5 1382.5C1995 1387.2 1999.6 1392.5 2010 1397.5C2020.4 1402.5 2037.1 1409 2050 1412.5C2062.9 1416 2075 1417.3 2087.5 1418.8C2100 1420.2 2110.4 1421.7 2125 1421.2C2139.6 1420.8 2158.3 1419.4 2175 1416.2C2191.7 1413.1 2210.4 1407.7 2225 1402.5C2239.6 1397.3 2252.9 1390.6 2262.5 1385C2272.1 1379.4 2279.2 1371.5 2282.5 1368.8"/>
<path d="M2193.8 1231.2C2200.2 1227.1 2225 1211.7 2232.5 1206.2C2240 1200.8 2238.1 1201.2 2238.8 1198.8C2239.4 1196.2 2236.7 1192.5 2236.2 1191.2"/>
<path d="M2210 1237.5C2216.2 1232.9 2240 1215.4 2247.5 1210C2255 1204.6 2252.3 1205.8 2255 1205C2257.7 1204.2 2262.3 1205 2263.8 1205"/>
<path d="M2238.8 1248.8C2246 1244.6 2274.4 1229 2282.5 1223.8C2290.6 1218.5 2286.9 1219.8 2287.5 1217.5C2288.1 1215.2 2286.5 1211.2 2286.2 1210"/>
<path d="M2251.2 1257.5C2259 1252.3 2287.7 1232.1 2297.5 1226.2C2307.3 1220.4 2307.9 1223.1 2310 1222.5L2307.5 1246.2"/>
<path d="M2270 1271.2L2307.5 1248.8L2352.5 1276.2"/>
<path d="M2286.2 1287.5C2299.8 1285 2352.9 1275.8 2367.5 1272.5C2382.1 1269.2 2372.9 1268.8 2373.8 1267.5C2374.6 1266.2 2372.7 1265.4 2372.5 1265"/>
<path d="M2292.5 1297.5C2306.2 1294.6 2359.6 1283.3 2375 1280C2390.4 1276.7 2383.3 1277.9 2385 1277.5L2381.2 1300"/>
<path d="M2297.5 1316.2L2380 1302.5L2392.5 1312.5L2407.5 1305"/>
<path d="M2300 1325L2410 1316.2L2405 1342.5"/>
<path d="M2297.5 1345L2402.5 1342.5L2412.5 1382.5"/>
<path d="M2310 1352.5L2412.5 1382.5"/>
<path d="M1951.8 1376.2C1951.5 1381 1950.5 1399 1950 1405C1949.5 1411 1948.3 1410.2 1948.8 1412.5C1949.2 1414.8 1949.4 1417.5 1952.5 1418.8C1955.6 1420 1962.1 1420.8 1967.5 1420C1972.9 1419.2 1981.5 1415.8 1985 1413.8C1988.5 1411.7 1988.1 1408.5 1988.8 1407.5L1988.8 1376.2L1951.8 1376.2Z" fill="#fff"/>
<ellipse cx="1970.5" cy="1376.2" rx="18.8" ry="10.5" fill="#fff"/>
<path d="M1988.8 1390C1991.5 1391.5 2001.5 1395.8 2005 1398.8C2008.5 1401.7 2009.6 1404.4 2010 1407.5C2010.4 1410.6 2010 1412.1 2007.5 1417.5C2005 1422.9 2003.3 1428.3 1995 1440C1986.7 1451.7 1963.8 1479.6 1957.5 1487.5"/>
<path d="M1900 1373.8L1951.2 1374.5"/>
<path d="M1900 1395L1950 1395.5" stroke-width="3"/>
<path d="M1900 1398.8C1901.2 1401 1904.6 1407.3 1907.5 1412.5C1910.4 1417.7 1913.3 1427.3 1917.5 1430C1921.7 1432.7 1919.6 1431.7 1932.5 1428.8C1945.4 1425.8 1984.6 1415.2 1995 1412.5"/>
<path d="M1932.5 1442.5C1932.1 1443.5 1930 1446.2 1930 1448.8C1930 1451.2 1930.8 1455.6 1932.5 1457.5C1934.2 1459.4 1938.8 1459.6 1940 1460L1985 1448.8"/>
<path d="M1932.5 1442.5L1995 1428.8"/>
<path d="M1940 1460L1958.8 1487.5"/>
<path d="M1970.1 1175.6L2084.2 1168.7C2084.2 1169.2 2085.1 1170.9 2084.2 1171.9C2083.4 1172.8 2080.2 1173.1 2079.2 1174.4C2078.1 1175.6 2077.7 1177.7 2077.9 1179.4C2078.1 1181.1 2079 1182.4 2080.4 1184.5C2081.9 1186.6 2084.4 1188.7 2086.7 1192C2089 1195.4 2091.8 1200.7 2094.3 1204.6C2096.8 1208.5 2100.6 1213.6 2101.9 1215.3" stroke-width="2.6"/>
<path d="M1977.1 1177.5C1978.3 1178.5 1982.3 1180.2 1984.6 1183.2C1986.9 1186.2 1988.4 1190.8 1990.9 1195.8C1993.5 1200.8 1997 1208.2 1999.8 1213.5C2002.5 1218.7 2006.1 1225 2007.3 1227.3"/>
<path d="M1979.6 1176.3C1980.8 1178.3 1984.4 1183.5 1987.1 1188.2C1989.9 1193 1992.4 1198.3 1996 1204.6C1999.5 1210.9 2006.5 1222.5 2008.6 1226.1"/>
<path d="M2086.7 1190.8C2092.2 1190.7 2107.7 1189.6 2119.5 1190.1C2131.3 1190.7 2147.2 1192.3 2157.3 1193.9C2167.4 1195.5 2176.2 1198.6 2180 1199.6"/>
<path d="M1951.9 1194.5C1953.1 1193.5 1957.9 1190.3 1959.4 1188.2C1960.9 1186.1 1960.5 1183 1960.7 1181.9C1961.9 1181.9 1966.1 1181.4 1968.2 1181.7C1970.3 1182 1970.8 1181.1 1973.3 1183.8C1975.8 1186.6 1981.7 1195.9 1983.4 1198.3"/>
<path d="M1983.4 1198.3L1980.8 1200.2C1980.2 1199.6 1979.2 1197.4 1977.1 1196.8C1975 1196.2 1970.6 1196.1 1968.2 1196.8C1965.9 1197.5 1968 1196.3 1963.2 1200.8C1958.4 1205.4 1943.6 1220 1939.2 1224.2C1934.9 1228.4 1937.7 1225.7 1937.4 1226.1C1940.4 1226.7 1947.3 1228.6 1955.6 1229.8C1963.9 1231.1 1979.6 1232.9 1987.1 1233.6C1994.7 1234.4 1998.7 1234.1 2001 1234.2"/>
<path d="M1956.9 1228.6C1958.8 1226.7 1965.3 1219.4 1968.2 1217.2C1971.2 1215 1972.4 1215.2 1974.5 1215.3C1976.6 1215.4 1978.3 1214.8 1980.8 1217.9C1983.4 1220.9 1988.2 1231 1989.7 1233.6"/>
<path d="M1880 1199.6C1885.3 1198.7 1903.1 1195.6 1911.5 1194.5C1919.9 1193.5 1924.5 1193.4 1930.4 1193.3C1936.3 1193.2 1943.8 1193.3 1946.8 1193.9C1949.9 1194.5 1948.4 1196.5 1948.7 1197.1"/>
<path d="M1951.9 1194.5C1947.9 1198.5 1932.7 1213.9 1927.9 1218.5C1923.1 1223.1 1925.6 1221.5 1922.9 1222.3C1920.1 1223 1918.7 1223.5 1911.5 1222.9C1904.4 1222.3 1885.3 1219.2 1880 1218.5"/>
<path d="M2001 1230.5L2001 1245" stroke-width="3"/>
<path d="M2004.2 1231.7L2017.4 1239.3L2004.2 1243.7"/>
<path d="M2018.7 1239.9C2027.1 1238.7 2054.4 1233.8 2069.1 1232.4C2083.8 1230.9 2094.3 1230.7 2106.9 1231.1C2119.5 1231.5 2132.5 1233.1 2144.7 1234.9C2156.9 1236.7 2174.1 1240.7 2180 1241.8" stroke-width="1.5"/>
<path d="M1880 1227.9C1883.8 1228.4 1898.4 1229.5 1902.7 1230.5C1907 1231.4 1905.4 1232.3 1905.8 1233.6C1906.3 1235 1906.6 1236.8 1905.2 1238.7C1903.8 1240.6 1900.2 1243.1 1897.6 1245C1895.1 1246.9 1893 1247.3 1890.1 1250C1887.1 1252.7 1881.7 1259.5 1880 1261.4"/>
<path d="M1880 1246.2L1888.8 1248.1"/>
<path d="M1950.6 1258.8L1967 1245.6L1970.8 1246.2L1983.4 1254.4"/>
<path d="M1924.1 1261.4L1930.4 1258.2L1948.1 1260.1"/>
<path d="M1930.4 1284L1925.4 1297.2"/>
<path d="M1935.5 1281.5L1930.4 1297.2"/>
<path d="M1943.4 1540.7C1945.3 1541.7 1950.7 1544.9 1954.7 1546.4C1958.7 1547.9 1961.9 1549 1967.3 1549.5C1972.8 1550.1 1980 1551 1987.5 1549.5C1995 1548 2005.4 1543.5 2012.5 1540.8C2019.6 1538 2022.9 1534.7 2030 1533.2C2037.1 1531.8 2043.3 1531.7 2055 1532C2066.7 1532.3 2088.3 1533.9 2100 1535C2111.7 1536.1 2116.7 1537.1 2125 1538.8C2133.3 1540.4 2143.3 1542.3 2150 1545C2156.7 1547.7 2159.2 1551.9 2165 1555C2170.8 1558.1 2178.3 1562.3 2185 1563.8C2191.7 1565.2 2198.3 1564.8 2205 1563.8C2211.7 1562.7 2219.2 1560.6 2225 1557.5C2230.8 1554.4 2235.8 1548.5 2240 1545C2244.2 1541.5 2245 1539 2250 1536.2C2255 1533.5 2265 1531.2 2270 1528.8C2275 1526.3 2272 1524.5 2280 1521.6C2288 1518.7 2305.2 1515.1 2317.8 1511.5C2330.4 1507.9 2343 1504.8 2355.6 1500.2C2368.2 1495.6 2382.9 1489.9 2393.5 1483.8C2404 1477.7 2411.7 1469.5 2418.7 1463.6C2425.6 1457.7 2430.8 1451.6 2435 1448.5C2439.3 1445.3 2439.3 1445.8 2443.9 1444.7C2448.5 1443.7 2456.5 1442.7 2462.8 1442.2C2469.1 1441.7 2476.4 1442.2 2481.7 1441.6C2486.9 1440.9 2490.3 1439.8 2494.3 1438.4C2498.3 1437 2503.1 1435.5 2505.6 1433.4C2508.2 1431.3 2508.8 1427.1 2509.4 1425.8"/>
<path d="M2532.1 1390.5C2530.9 1391.3 2527.3 1394.2 2524.5 1395.5C2521.8 1396.9 2518.2 1397.2 2515.7 1398.7C2513.2 1400.2 2510.9 1402.6 2509.4 1404.4C2508 1406.2 2507.1 1407.1 2506.9 1409.4C2506.7 1411.7 2507.5 1415.5 2508.2 1418.2C2508.8 1421 2510.3 1424.5 2510.7 1425.8C2510.9 1428.7 2511.6 1438 2511.7 1443.5C2511.8 1448.9 2511.7 1455.6 2511.3 1458.6C2510.9 1461.5 2510.6 1459.4 2509.4 1461.1C2508.3 1462.8 2506.9 1466.1 2504.4 1468.7C2501.9 1471.2 2498.1 1474.3 2494.3 1476.2C2490.5 1478.1 2488 1479.4 2481.7 1480C2475.4 1480.6 2463.9 1480.6 2456.5 1480C2449 1479.4 2440.2 1476.9 2436.9 1476.2"/>
<path d="M2436.9 1476.2C2437.9 1475.4 2439.6 1472.3 2442.6 1471.2C2445.7 1470 2453.1 1469.6 2455.2 1469.3"/>
<path d="M1760 1563.2C1770 1564.1 1798.8 1566 1820 1568.2C1841.2 1570.5 1865.8 1574.5 1887.5 1577C1909.2 1579.5 1939.6 1582.2 1950 1583.2C1951.2 1583.9 1954.6 1585.5 1957.5 1587C1960.4 1588.5 1962.5 1591.4 1967.5 1592C1972.5 1592.6 1980.8 1592.2 1987.5 1590.8C1994.2 1589.3 2001.7 1586.2 2007.5 1583.2C2013.3 1580.3 2016.2 1575.8 2022.5 1573.2C2028.8 1570.8 2032.1 1568.4 2045 1568.2C2057.9 1568.1 2086.7 1571.4 2100 1572.5C2113.3 1573.6 2117.5 1572.9 2125 1575C2132.5 1577.1 2138.8 1581.2 2145 1585C2151.2 1588.8 2156.2 1594 2162.5 1597.5C2168.8 1601 2175.4 1604.8 2182.5 1606.2C2189.6 1607.7 2197.9 1607.3 2205 1606.2C2212.1 1605.2 2220 1602.7 2225 1600C2230 1597.3 2232.5 1594.2 2235 1590C2237.5 1585.8 2239 1578.8 2240 1575C2241 1571.2 2241 1568.8 2241.2 1567.5"/>
<path d="M2241.2 1572.5C2242.7 1570.8 2244.4 1565.4 2250 1562.5C2255.6 1559.6 2257.6 1560.9 2275 1555C2292.4 1549.1 2335.1 1534.8 2354.4 1527.2C2373.7 1519.5 2380.2 1515 2390.9 1509C2401.6 1503 2411 1496.7 2418.7 1491.4C2426.3 1486 2433.9 1479.3 2436.9 1476.9"/>
<ellipse cx="2301.2" cy="1182.5" rx="20.5" ry="11.5"/>
<ellipse cx="2498.8" cy="1378.2" rx="20.5" ry="11.5"/>
<ellipse cx="2462.5" cy="1415.8" rx="20.5" ry="11.5"/>
<ellipse cx="2186.2" cy="1478.8" rx="25" ry="13.8"/>
<path d="M2247.5 1493.8C2246.9 1492.3 2243.3 1489.4 2243.8 1485C2244.2 1480.6 2247.3 1475.4 2250 1467.5C2252.7 1459.6 2257.5 1444 2260 1437.5C2262.5 1431 2262.5 1430.6 2265 1428.8C2267.5 1426.9 2265 1426.5 2275 1426.2C2285 1426 2310.4 1426.9 2325 1427.5C2339.6 1428.1 2353.8 1428.5 2362.5 1430C2371.2 1431.5 2375 1435.2 2377.5 1436.2"/>
<path d="M2256.2 1492.5C2258.1 1487.5 2264.4 1468.5 2267.5 1462.5C2270.6 1456.5 2273.8 1457.3 2275 1456.2L2347.5 1457.5"/>
<path d="M2050 1497.5C2054.2 1489.6 2069.2 1459.2 2075 1450C2080.8 1440.8 2080.8 1444 2085 1442.5C2089.2 1441 2095.4 1440.8 2100 1441.2C2104.6 1441.7 2108.8 1442.3 2112.5 1445C2116.2 1447.7 2118.5 1447.9 2122.5 1457.5C2126.5 1467.1 2134 1495 2136.2 1502.5"/>
<path d="M2072.5 1500C2074.4 1496.7 2080 1484 2083.8 1480C2087.5 1476 2091.5 1476.5 2095 1476.2C2098.5 1476 2102.3 1476.9 2105 1478.8C2107.7 1480.6 2109.2 1483.5 2111.2 1487.5C2113.3 1491.5 2116.5 1500 2117.5 1502.5"/>
<path d="M1900 1450C1902.5 1450.8 1910.8 1451.7 1915 1455C1919.2 1458.3 1921.2 1464.6 1925 1470C1928.8 1475.4 1935.4 1484.6 1937.5 1487.5"/>
<path d="M1900 1475C1901.2 1475.4 1904.4 1475.4 1907.5 1477.5C1910.6 1479.6 1916.9 1485.8 1918.8 1487.5"/>
<ellipse cx="1741.2" cy="1501.5" rx="20.5" ry="11.8"/>
<ellipse cx="1980" cy="1527" rx="20.5" ry="11.8"/>
<ellipse cx="2195" cy="1541.5" rx="20.5" ry="11.8"/>
<ellipse cx="2186.2" cy="1479.5" rx="25" ry="13.8"/>
<path d="M2241.2 1569.5C2242.7 1568.7 2241 1567.4 2250 1564.5C2259 1561.6 2287.5 1554.1 2295 1552"/>
<path d="M1470 1509.5L1520 1818.2"/>
<path d="M1485 1512L1535 1818.2"/>
<path d="M1507.5 1512L1552.5 1818.2"/>
<path d="M1523.8 1507L1570 1818.2"/>
<path d="M1740 1567L1706.2 1818.2"/>
<path d="M1753.8 1563.2L1720 1818.2"/>
<path d="M1820 1567L1785 1818.2"/>
<path d="M1835 1572L1801.2 1818.2"/>
<path d="M1876.2 1577L1838.8 1818.2"/>
<path d="M1887.5 1578.2L1848.8 1818.2"/>
<path d="M1767.5 1564.5C1765.4 1580.3 1759.2 1629.1 1755 1659.5C1750.8 1689.9 1744.7 1720.5 1742.5 1747C1740.3 1773.5 1742.1 1806.4 1742 1818.2"/>
<path d="M1561.2 1509.5C1562.3 1519.1 1563.5 1544.1 1567.5 1567C1571.5 1589.9 1578.5 1617.4 1585 1647C1591.5 1676.6 1602.7 1728.2 1606.2 1744.5C1609 1745.3 1618.3 1747.4 1622.5 1749.5C1626.7 1751.6 1629.8 1755.8 1631.2 1757"/>
<path d="M1670 1530.8C1670.2 1537.6 1672.9 1554.7 1671.2 1572C1669.6 1589.3 1666.5 1604.7 1660 1634.5C1653.5 1664.3 1637.1 1731.4 1632.5 1750.8L1635 1818.2"/>
<path d="M1606.2 1744.5L1603.8 1818.2"/></g>
</defs>
<rect x="0" y="0" width="2797" height="1838" fill="#fff" stroke="none"/>
<use href="#case"/>
<path d="M1681.5 1114V1414" stroke="#fff" stroke-width="21" stroke-linecap="butt"/>
<path d="M1250.1 1054L1338.7 977.4L1336 1019.6C1341.6 1021.7 1357.7 1027.4 1369.6 1032.5C1381.5 1037.5 1394.7 1043 1407.2 1049.9C1419.7 1056.9 1432.7 1064.9 1444.8 1074.1C1456.8 1083.3 1468.9 1094 1479.7 1105C1490.4 1115.9 1500.2 1127.8 1509.2 1139.9C1518.1 1151.9 1526.2 1164.9 1533.4 1177.4C1540.5 1190 1546.8 1203 1552.1 1215C1557.5 1227.1 1561.5 1237.9 1565.6 1249.9C1569.6 1262 1573.6 1276.3 1576.3 1287.5C1579 1298.7 1580.3 1308.3 1581.7 1317C1583 1325.8 1583.9 1336.1 1584.4 1339.9C1583 1334.3 1579.9 1318.2 1576.3 1306.3C1572.7 1294.5 1568.3 1281.3 1562.9 1268.7C1557.5 1256.2 1551.3 1243.2 1544.1 1231.1C1536.9 1219.1 1528.4 1206.5 1519.9 1196.2C1511.4 1186 1503.4 1177.9 1493.1 1169.4C1482.8 1160.9 1470.7 1152.4 1458.2 1145.2C1445.7 1138.1 1431.3 1131.8 1417.9 1126.4C1404.5 1121.1 1392.3 1116.7 1377.7 1113C1363 1109.3 1337.8 1105.6 1329.9 1104.2L1326.6 1146.6L1250.1 1054Z" fill="#fff" stroke="#fff" stroke-width="12"/>
<path d="M1250.1 1054L1338.7 977.4L1336 1019.6C1341.6 1021.7 1357.7 1027.4 1369.6 1032.5C1381.5 1037.5 1394.7 1043 1407.2 1049.9C1419.7 1056.9 1432.7 1064.9 1444.8 1074.1C1456.8 1083.3 1468.9 1094 1479.7 1105C1490.4 1115.9 1500.2 1127.8 1509.2 1139.9C1518.1 1151.9 1526.2 1164.9 1533.4 1177.4C1540.5 1190 1546.8 1203 1552.1 1215C1557.5 1227.1 1561.5 1237.9 1565.6 1249.9C1569.6 1262 1573.6 1276.3 1576.3 1287.5C1579 1298.7 1580.3 1308.3 1581.7 1317C1583 1325.8 1583.9 1336.1 1584.4 1339.9C1583 1334.3 1579.9 1318.2 1576.3 1306.3C1572.7 1294.5 1568.3 1281.3 1562.9 1268.7C1557.5 1256.2 1551.3 1243.2 1544.1 1231.1C1536.9 1219.1 1528.4 1206.5 1519.9 1196.2C1511.4 1186 1503.4 1177.9 1493.1 1169.4C1482.8 1160.9 1470.7 1152.4 1458.2 1145.2C1445.7 1138.1 1431.3 1131.8 1417.9 1126.4C1404.5 1121.1 1392.3 1116.7 1377.7 1113C1363 1109.3 1337.8 1105.6 1329.9 1104.2L1326.6 1146.6L1250.1 1054Z" fill="#000" stroke-width="1"/>
<path d="M1681.5 1118V1410" stroke-width="5.5" stroke-linecap="butt"/>
<path d="M1597.7 733.1C1594.9 734.9 1585.9 739.4 1580.9 744C1575.8 748.6 1570.4 755.2 1567.4 760.8C1564.5 766.4 1563.9 774.8 1563.2 777.6L1563.2 809.6C1563.6 811.2 1563.9 815.7 1565.8 819.6C1567.6 823.6 1570.1 828.6 1574.2 833.1C1578.2 837.6 1587.5 844.3 1590.1 846.5L1590.1 863.4C1590.6 865.6 1589.7 872 1592.7 876.8C1595.6 881.6 1601.3 887.7 1607.8 891.9C1614.2 896.1 1623.2 899.5 1631.3 902C1639.5 904.6 1648.3 906 1656.5 907.1C1664.8 908.2 1672.8 908.8 1680.9 908.8C1689.1 908.8 1697.3 908.1 1705.3 907.1C1713.3 906.1 1720.4 905.7 1728.8 902.9C1737.3 900.1 1748.7 894.9 1755.7 890.3C1762.8 885.6 1767.8 879.6 1770.9 875.1C1774 870.6 1773.7 865.3 1774.2 863.4L1774.2 846.5C1777 844 1787 835.9 1791.1 831.4C1795.1 826.9 1796.9 823.3 1798.6 819.6C1800.3 816 1800.7 811.2 1801.1 809.6L1801.1 774.2C1800 771.4 1797.8 762.8 1794.4 757.4C1791.1 752.1 1785.5 746.1 1781 742.3C1776.5 738.5 1769.8 736 1767.5 734.7C1766.7 733.5 1764.4 729.7 1762.5 727.2C1760.5 724.6 1758.3 722 1755.7 719.6C1753.2 717.2 1748.7 714 1747.3 712.9L1616.2 714.6C1614.8 715.5 1610.4 717.8 1607.8 720.4C1605.1 723.1 1601.5 728.8 1600.2 730.5L1597.7 733.1Z" fill="url(#h)" stroke-width="4.2"/>
<path d="M1597.7 735.6L1597.7 787.7C1598.3 789.7 1599.4 795.8 1601.1 799.5C1602.7 803.1 1604.7 806.6 1607.8 809.6C1610.9 812.5 1615.6 815.2 1619.6 817.1C1623.5 819.1 1625.4 819.8 1631.3 821.3C1637.2 822.9 1646.6 825.2 1654.9 826.4C1663.1 827.5 1672.2 828 1680.9 828C1689.6 828 1698.4 827.5 1707 826.4C1715.5 825.2 1725.5 823.3 1732.2 821.3C1738.9 819.4 1743.1 817.4 1747.3 814.6C1751.5 811.8 1754.6 807.6 1757.4 804.5C1760.2 801.4 1762.8 798.9 1764.2 796.1C1765.6 793.3 1765.6 789.1 1765.8 787.7L1765.8 735.6" stroke-width="3"/>
<path d="M1566.6 801.1C1567.9 802.8 1570.7 807.9 1574.2 811.2C1577.7 814.6 1582 818 1587.6 821.3C1593.2 824.7 1600.5 828.3 1607.8 831.4C1615.1 834.5 1623.5 837.7 1631.3 839.8C1639.2 841.9 1646.6 843 1654.9 844C1663.1 845 1672.2 845.7 1680.9 845.7C1689.6 845.7 1698.4 845 1707 844C1715.5 843 1724.1 841.9 1732.2 839.8C1740.3 837.7 1748.2 834.5 1755.7 831.4C1763.3 828.3 1772 824.7 1777.6 821.3C1783.2 818 1786 814.6 1789.4 811.2C1792.7 807.9 1796.4 802.8 1797.8 801.1" stroke-width="3"/>
<path d="M1590.1 846.5C1592 847.9 1597 852.7 1601.1 855C1605.1 857.2 1609.5 858.3 1614.5 860C1619.6 861.7 1624.6 863.5 1631.3 865C1638 866.6 1646.6 868.3 1654.9 869.2C1663.1 870.2 1672.2 870.9 1680.9 870.9C1689.6 870.9 1698.4 870.2 1707 869.2C1715.5 868.3 1724.6 866.7 1732.2 865C1739.8 863.4 1746.8 861.1 1752.4 859.2C1758 857.2 1762.2 855.4 1765.8 853.3C1769.5 851.2 1772.8 847.7 1774.2 846.5" stroke-width="3"/>
<path d="M1603.6 725.5C1603.3 727.2 1601.9 732.2 1601.9 735.6C1601.9 738.9 1602.3 741.7 1603.6 745.7C1604.8 749.6 1606.8 755.2 1609.5 759.1C1612.1 763 1615.4 766.1 1619.6 769.2C1623.8 772.3 1628.5 775.2 1634.7 777.6C1640.9 780 1648.8 782.1 1656.5 783.5C1664.3 784.9 1672.8 785.9 1680.9 786C1689.1 786.2 1697.6 785.6 1705.3 784.3C1713 783.1 1721 780.7 1727.2 778.4C1733.3 776.2 1737.8 774.1 1742.3 770.9C1746.8 767.7 1751.3 763.3 1754.1 759.1C1756.9 754.9 1758.1 749.6 1759.1 745.7C1760.1 741.7 1759.9 738.4 1759.9 735.6C1759.9 732.8 1759.2 730 1759.1 728.8" stroke-width="3"/>
<path d="M1597.7 737.3C1597.8 739.5 1598 746.2 1598.5 750.7C1599.1 755.2 1599.2 760.5 1601.1 764.2C1602.9 767.8 1606.4 770 1609.5 772.6C1612.5 775.1 1615.4 776.9 1619.6 779.3C1623.8 781.7 1628.5 784.6 1634.7 786.9C1640.9 789.1 1648.8 791.3 1656.5 792.7C1664.3 794.1 1672.8 795.1 1680.9 795.3C1689.1 795.4 1697.6 794.8 1705.3 793.6C1713 792.3 1720.7 790.1 1727.2 787.7C1733.6 785.3 1739.2 782.4 1744 779.3C1748.7 776.2 1752.4 772.6 1755.7 769.2C1759.1 765.8 1762.5 764.4 1764.2 759.1C1765.8 753.8 1765.6 740.9 1765.8 737.3"/>
<path d="M1616.5 71.3A64.3 36.2 0 0 1 1745.1 71.3V740A64.3 36.2 0 0 1 1616.5 740Z" fill="url(#h)" stroke="none"/>
<clipPath id="kn"><path d="M1616.5 71.3A64.3 36.2 0 0 0 1745.1 71.3V345.6A64.3 36.2 0 0 1 1616.5 345.6Z"/></clipPath>
<g clip-path="url(#kn)"><path d="M1616.5 56.2L1632.6 50.7L1648.7 43.7L1664.7 35.2L1680.8 25.3L1696.9 14L1712.9 1.2L1729 -13L1745.1 -28.7M1616.5 73.1L1632.6 67.6L1648.7 60.6L1664.7 52.1L1680.8 42.2L1696.9 30.9L1712.9 18.1L1729 3.9L1745.1 -11.8M1616.5 90L1632.6 84.5L1648.7 77.5L1664.7 69L1680.8 59.1L1696.9 47.8L1712.9 35L1729 20.8L1745.1 5.1M1616.5 106.9L1632.6 101.4L1648.7 94.4L1664.7 85.9L1680.8 76L1696.9 64.7L1712.9 51.9L1729 37.7L1745.1 22M1616.5 123.8L1632.6 118.3L1648.7 111.3L1664.7 102.8L1680.8 92.9L1696.9 81.6L1712.9 68.8L1729 54.6L1745.1 38.9M1616.5 140.7L1632.6 135.2L1648.7 128.2L1664.7 119.7L1680.8 109.8L1696.9 98.5L1712.9 85.7L1729 71.5L1745.1 55.8M1616.5 157.6L1632.6 152.1L1648.7 145.1L1664.7 136.6L1680.8 126.7L1696.9 115.4L1712.9 102.6L1729 88.4L1745.1 72.7M1616.5 174.5L1632.6 169L1648.7 162L1664.7 153.5L1680.8 143.6L1696.9 132.3L1712.9 119.5L1729 105.3L1745.1 89.6M1616.5 191.4L1632.6 185.9L1648.7 178.9L1664.7 170.4L1680.8 160.5L1696.9 149.2L1712.9 136.4L1729 122.2L1745.1 106.5M1616.5 208.3L1632.6 202.8L1648.7 195.8L1664.7 187.3L1680.8 177.4L1696.9 166.1L1712.9 153.3L1729 139.1L1745.1 123.4M1616.5 225.2L1632.6 219.7L1648.7 212.7L1664.7 204.2L1680.8 194.3L1696.9 183L1712.9 170.2L1729 156L1745.1 140.3M1616.5 242.1L1632.6 236.6L1648.7 229.6L1664.7 221.1L1680.8 211.2L1696.9 199.9L1712.9 187.1L1729 172.9L1745.1 157.2M1616.5 259L1632.6 253.5L1648.7 246.5L1664.7 238L1680.8 228.1L1696.9 216.8L1712.9 204L1729 189.8L1745.1 174.1M1616.5 275.9L1632.6 270.4L1648.7 263.4L1664.7 254.9L1680.8 245L1696.9 233.7L1712.9 220.9L1729 206.7L1745.1 191M1616.5 292.8L1632.6 287.3L1648.7 280.3L1664.7 271.8L1680.8 261.9L1696.9 250.6L1712.9 237.8L1729 223.6L1745.1 207.9M1616.5 309.7L1632.6 304.2L1648.7 297.2L1664.7 288.7L1680.8 278.8L1696.9 267.5L1712.9 254.7L1729 240.5L1745.1 224.8M1616.5 326.6L1632.6 321.1L1648.7 314.1L1664.7 305.6L1680.8 295.7L1696.9 284.4L1712.9 271.6L1729 257.4L1745.1 241.7M1616.5 343.5L1632.6 338L1648.7 331L1664.7 322.5L1680.8 312.6L1696.9 301.3L1712.9 288.5L1729 274.3L1745.1 258.6M1616.5 360.4L1632.6 354.9L1648.7 347.9L1664.7 339.4L1680.8 329.5L1696.9 318.2L1712.9 305.4L1729 291.2L1745.1 275.5M1616.5 377.3L1632.6 371.8L1648.7 364.8L1664.7 356.3L1680.8 346.4L1696.9 335.1L1712.9 322.3L1729 308.1L1745.1 292.4M1616.5 394.2L1632.6 388.7L1648.7 381.7L1664.7 373.2L1680.8 363.3L1696.9 352L1712.9 339.2L1729 325L1745.1 309.3M1616.5 411.1L1632.6 405.6L1648.7 398.6L1664.7 390.1L1680.8 380.2L1696.9 368.9L1712.9 356.1L1729 341.9L1745.1 326.2M1616.5 428L1632.6 422.5L1648.7 415.5L1664.7 407L1680.8 397.1L1696.9 385.8L1712.9 373L1729 358.8L1745.1 343.1M1616.5 444.9L1632.6 439.4L1648.7 432.4L1664.7 423.9L1680.8 414L1696.9 402.7L1712.9 389.9L1729 375.7L1745.1 360M1616.5 461.8L1632.6 456.3L1648.7 449.3L1664.7 440.8L1680.8 430.9L1696.9 419.6L1712.9 406.8L1729 392.6L1745.1 376.9M1616.5 478.7L1632.6 473.2L1648.7 466.2L1664.7 457.7L1680.8 447.8L1696.9 436.5L1712.9 423.7L1729 409.5L1745.1 393.8M1616.5 495.6L1632.6 490.1L1648.7 483.1L1664.7 474.6L1680.8 464.7L1696.9 453.4L1712.9 440.6L1729 426.4L1745.1 410.7M1616.5 512.5L1632.6 507L1648.7 500L1664.7 491.5L1680.8 481.6L1696.9 470.3L1712.9 457.5L1729 443.3L1745.1 427.6M1616.5 529.4L1632.6 523.9L1648.7 516.9L1664.7 508.4L1680.8 498.5L1696.9 487.2L1712.9 474.4L1729 460.2L1745.1 444.5M1616.5 546.3L1632.6 540.8L1648.7 533.8L1664.7 525.3L1680.8 515.4L1696.9 504.1L1712.9 491.3L1729 477.1L1745.1 461.4" stroke-width="2.6"/><path d="M1616.5 -13.8L1745.1 78.8M1616.5 3.1L1745.1 95.7M1616.5 20L1745.1 112.6M1616.5 36.9L1745.1 129.5M1616.5 53.8L1745.1 146.4M1616.5 70.7L1745.1 163.3M1616.5 87.6L1745.1 180.2M1616.5 104.5L1745.1 197.1M1616.5 121.4L1745.1 214M1616.5 138.3L1745.1 230.9M1616.5 155.2L1745.1 247.8M1616.5 172.1L1745.1 264.7M1616.5 189L1745.1 281.6M1616.5 205.9L1745.1 298.5M1616.5 222.8L1745.1 315.4M1616.5 239.7L1745.1 332.3M1616.5 256.6L1745.1 349.2M1616.5 273.5L1745.1 366.1M1616.5 290.4L1745.1 383M1616.5 307.3L1745.1 399.9M1616.5 324.2L1745.1 416.8M1616.5 341.1L1745.1 433.7M1616.5 358L1745.1 450.6M1616.5 374.9L1745.1 467.5M1616.5 391.8L1745.1 484.4M1616.5 408.7L1745.1 501.3M1616.5 425.6L1745.1 518.2M1616.5 442.5L1745.1 535.1M1616.5 459.4L1745.1 552M1616.5 476.3L1745.1 568.9" stroke-width="2.6"/></g>
<path d="M1745.1 345.6A64.3 36.2 0 0 1 1680.8 381.8A64.3 36.2 0 0 1 1616.5 345.6" stroke-width="3"/>
<path d="M1745.1 71.3A64.3 36.2 0 0 1 1680.8 107.5A64.3 36.2 0 0 1 1616.5 71.3" stroke-width="2.6"/>
<path d="M1616.5 71.3A64.3 36.2 0 0 1 1680.8 35.1A64.3 36.2 0 0 1 1745.1 71.3" stroke-width="5"/>
<path d="M1616.5 71.3V740A64.3 36.2 0 0 0 1745.1 740V71.3" stroke-width="5"/>
<clipPath id="rg"><ellipse cx="1682.8" cy="998" rx="114.5" ry="60.6"/></clipPath>
<g clip-path="url(#rg)"><ellipse cx="1682.8" cy="1022" rx="100" ry="55" stroke-width="2"/><ellipse cx="1682.8" cy="1036.5" rx="100" ry="55" stroke-width="2.8"/><ellipse cx="1682.8" cy="1043" rx="100" ry="55" stroke-width="2.8"/><ellipse cx="1682.8" cy="1051.5" rx="90" ry="50" stroke-width="2.6"/></g>
<path d="M1602.1 988.2L1590 974.8L1597.2 970.6L1608.2 984.5" stroke-width="2.4"/>
<path d="M1593.6 974.8L1602.1 986.4" stroke-width="1.6"/>
<path d="M1647.1 969.3L1641.6 950.5L1651.9 949.3L1655.6 967.5" stroke-width="2.4"/>
<path d="M1645.8 952.9L1650.1 968.1" stroke-width="1.6"/>
<path d="M1575.4 1001.5L1583.9 1010.7L1583.9 1021" stroke-width="4.5"/>
<path d="M1764.4 988.2L1776.6 974.8L1769.3 970.6L1758.3 984.5" stroke-width="2.4"/>
<path d="M1772.9 974.8L1764.4 986.4" stroke-width="1.6"/>
<path d="M1719.5 971.2L1724.9 952.3L1714.6 951.1L1711 969.3" stroke-width="2.4"/>
<path d="M1720.7 954.8L1716.4 970" stroke-width="1.6"/>
<path d="M1790.5 997.9C1789.6 999.9 1786.4 1006.2 1785.1 1010C1783.8 1013.9 1783 1019.2 1782.6 1021" stroke-width="2.4"/>
<path d="M1557.8 1008A125 72 0 0 1 1682.8 936A125 72 0 0 1 1807.8 1008" stroke-width="3.8"/>
<path d="M1790.4 1018.7A114.5 60.6 0 0 1 1575.2 1018.7" stroke-width="4.3"/>
<path d="M1581 1030.5A117.5 63 0 0 1 1682.8 936A117.5 63 0 0 1 1784.6 1030.5" stroke-width="1.4"/>
<path d="M1570 1021.4A120 65.5 0 0 1 1682.8 933.5A120 65.5 0 0 1 1795.6 1021.4" stroke-width="1.4"/>
<path d="M1557.8 1008V1037" stroke-width="2.6"/>
<path d="M1807.8 1008V1037" stroke-width="2.6"/>
<path d="M1803.1 1020A123 72 0 0 1 1562.5 1020" stroke-width="2.8"/>
<path d="M1807.8 1008A125 72 0 0 1 1682.8 1080A125 72 0 0 1 1557.8 1008" stroke-width="2.2"/>
<path d="M1807.8 1018.2A125 72 0 0 1 1682.8 1090.2A125 72 0 0 1 1557.8 1018.2" stroke-width="3"/>
<path d="M1807.6 1026.8A125 72 0 0 1 1682.8 1095A125 72 0 0 1 1558 1026.8" stroke-width="2.2"/>
<path d="M1807.8 1037A125 72 0 0 1 1682.8 1109A125 72 0 0 1 1557.8 1037" stroke-width="2.6"/>
<path d="M1683.4 913V1051" stroke="#fff" stroke-width="17" stroke-linecap="butt"/>
<path d="M1683.4 914V1052" stroke-width="5.5" stroke-linecap="butt"/>
<path d="M1806.8 1012.1L1924.4 983.1" stroke-width="4.2" stroke-linecap="butt"/>
<clipPath id="one"><path d="M1940 945H1959.1V991H1952.9V978H1940Z"/></clipPath>
<g clip-path="url(#one)"><text transform="translate(1942.3 989.8) scale(0.76 1)" font-size="59" fill="#000" stroke="none">1</text></g>
<g clip-path="url(#cin)"><use href="#case" transform="translate(-879 47)"/></g>
<g clip-path="url(#cin)"><clipPath id="e3i"><ellipse cx="806" cy="1372.5" rx="168.7" ry="92"/></clipPath>
<g clip-path="url(#e3i)"><ellipse cx="806" cy="1372.5" rx="168.7" ry="92" fill="#fff" stroke="none"/><ellipse cx="806" cy="1429.7" rx="152" ry="83"/><ellipse cx="806" cy="1443" rx="133" ry="88"/><ellipse cx="806" cy="1446" rx="125" ry="81" stroke-width="7"/><ellipse cx="806" cy="1448" rx="113" ry="72"/><path d="M712.9 1399.4L717.3 1395.9L721.8 1402.9"/><path d="M705.9 1436.5L721.8 1417.1"/><path d="M714.7 1443.5L721.8 1434.7"/><path d="M886.7 1404.7L894.7 1397.6L898.2 1401.2L889.4 1411.8"/></g>
<ellipse cx="806" cy="1372.5" rx="168.7" ry="92"/>
<path d="M577.5 700L577.5 791.2L606.2 846.2L608 1337.5L627.5 1345L670 1305L672 807L703.8 775.5L703.8 725L577.5 700Z" fill="url(#h)" stroke-width="4.2"/>
<path d="M661.2 710L661.2 807.5"/>
<path d="M702 778L661.2 807.5L631.2 848.8"/>
<path d="M703.8 775.5L631.2 848.8" stroke-width="3.4"/>
<path d="M631.2 848.8L627.5 1345"/>
<path d="M920 775L920 883.8L946.2 938.8L942.5 1432.5L962.5 1437.5L1005 1402.5L1006 1235L1011.2 907.5L1042.5 873.8L1042.5 810L920 775Z" fill="url(#h)" stroke-width="4.2"/>
<path d="M1002.5 802.5L1002.5 905"/>
<path d="M1040 875.5L1002.5 905L971.2 947.5"/>
<path d="M1042.5 873.8L971.2 947.5" stroke-width="3.4"/>
<path d="M971.2 947.5L962.5 1437.5"/>
<path d="M962 1290L959 1436.2" stroke-width="1.6"/>
<path d="M700.6 1225.3C702.4 1224.9 707.5 1224.9 711.2 1222.9C714.9 1221 721 1215.1 722.9 1213.5L722.9 1290L707.6 1285.3L701.8 1266.5L700.6 1225.3Z" fill="url(#h)" stroke-width="3"/>
<path d="M707.6 1232.4L722.9 1234.1"/>
<path d="M700.6 1261.8L721.8 1266.5"/>
<path d="M679.4 1231.2L700.6 1232.4L700.6 1262.9L680.6 1259.4L679.4 1231.2Z" fill="url(#h)" stroke-width="1"/>
<path d="M641.8 1247.6L647.6 1219.4L666.5 1202.4L692.4 1206.5L700.6 1225.9L697.1 1262.9L693.5 1266.5L674.7 1279.4L650 1271.2L641.8 1247.6Z" fill="url(#h)" stroke-width="4.2"/>
<path d="M651.2 1221.2L678.2 1225.9L688.8 1211.8"/>
<path d="M647.6 1219.4L651.2 1221.2"/>
<path d="M678.2 1225.9L671.8 1254.1L645.3 1250.9"/>
<path d="M671.8 1254.1L677.1 1276.5"/>
<path d="M682.4 1232.4C681.9 1234.3 679.6 1239.9 679.6 1244.1C679.7 1248.3 682.2 1255.4 682.7 1257.6" stroke-width="2.4"/>
<path d="M690.6 1231.2C690.1 1233.3 687.8 1239.4 687.9 1244.1C687.9 1248.8 690.4 1256.9 690.9 1259.4" stroke-width="2.4"/>
<path d="M699.2 1234.7C698.8 1236.9 697 1243.2 697.1 1247.6C697.1 1252.1 699.2 1258.9 699.6 1261.2" stroke-width="2.4"/>
<clipPath id="bj"><path d="M395 232H1245V1372.5H974.8A168.8 92 0 0 1 637.2 1372.5H395Z"/></clipPath>
<g clip-path="url(#bj)"><path d="M698.4 1006L746 958.5L851.1 975.3C855.8 976.1 872.7 978.4 879.5 979.9C886.3 981.5 888.4 982.2 891.8 984.6C895.1 986.9 897.8 990.2 899.4 993.8C901.1 997.3 901.3 996.3 901.7 1006C902.1 1015.8 901.9 1039.3 901.7 1052.1C901.6 1064.9 901.6 1072.5 901 1082.8C900.3 1093 899.4 1104.5 897.9 1113.4C896.4 1122.4 893.8 1130.1 891.8 1136.5C889.7 1142.9 886.6 1149.2 885.6 1151.8L883.5 1244.8L883.5 1473L723.7 1473L723.7 1244.8L724.5 1174.8C723.5 1173 720.3 1169.2 718.4 1164.1C716.4 1159 714.9 1152.6 713 1144.1C711.1 1135.7 708.8 1125 706.9 1113.4C704.9 1101.9 702.8 1087.9 701.5 1075.1C700.2 1062.3 699.7 1048.2 699.2 1036.7C698.7 1025.2 698.5 1011.1 698.4 1006Z" fill="url(#h)" stroke-width="4.2"/><path d="M762.1 1022.9C774 1025.1 820.3 1033.1 833.4 1036C846.6 1038.8 839.2 1037.9 841.1 1039.8C843 1041.7 844.3 1040.3 845 1047.5C845.6 1054.6 845.3 1069.2 845 1082.8C844.6 1096.3 843.8 1114.7 842.7 1128.8C841.5 1142.9 839.6 1158.2 838 1167.2C836.5 1176.1 834.4 1179.5 833.4 1182.5C832.5 1185.5 833.7 1182.5 832.4 1185.3C831 1188.1 826.5 1197.1 825.3 1199.4C824.3 1199.6 821.2 1199.6 819.4 1200.6C817.6 1201.6 815.4 1203.5 814.7 1205.3C814 1207.1 815.2 1210.2 815.3 1211.2L816.2 1237.1L816.2 1434.7L827.6 1438.2L827.6 1484.1L757 1484.1L757 1443.5L780 1441.8L780 1397.6L796.8 1405.6L796.8 1237.1L797.1 1197.1C796.9 1193.1 795.6 1174.7 795.9 1173.5C796.2 1172.4 798.8 1190 798.9 1190.2C799 1190.4 797.8 1181.2 796.6 1174.8C795.5 1168.4 794.1 1159 792 1151.8C790 1144.6 787.2 1138.3 784.3 1131.9C781.5 1125.5 777.4 1120.3 775.1 1113.4C772.8 1106.5 772.1 1099.4 770.5 1090.4C769 1081.5 767.3 1071 765.9 1059.7C764.5 1048.5 762.7 1029.1 762.1 1022.9Z" fill="#fff" stroke-width="4.2"/><path d="M711.5 998.4L855.7 1024.4"/><path d="M855.7 1024.4L888.7 989.9"/><path d="M713 1024.4C713.1 1023 712.4 1017.9 713.5 1016C714.5 1014.1 718.2 1013.6 719.1 1013.1C730.5 1014.5 766.1 1019 787.4 1021.4C808.8 1023.8 835.7 1025.7 847.3 1027.5C858.8 1029.3 854.3 1029.8 856.5 1032.1C858.6 1034.4 859.5 1032.9 860.3 1041.3C861.1 1049.8 860.9 1070.7 861.1 1082.8C861.2 1094.8 861.6 1103.2 861.1 1113.4C860.6 1123.7 859.5 1133.9 858 1144.1C856.5 1154.4 853.6 1167.2 851.9 1174.8C850.1 1182.5 848 1188 847.3 1190.2C846.6 1192.3 849.9 1185.1 847.6 1187.6C845.4 1190.2 836.5 1200.6 833.5 1205.3C830.6 1210 830.6 1214.1 830 1215.9L830 1436.5"/><path d="M713 1024.4C713 1029.1 712.4 1039.8 713 1052.1C713.6 1064.3 715.4 1085.3 716.8 1098.1C718.2 1110.9 719.9 1119.3 721.4 1128.8C723 1138.3 724.2 1148.5 726 1154.9C727.8 1161.3 729.6 1163.3 732.2 1167.2C734.7 1171 737.8 1174.1 741.4 1177.9C745 1181.7 750.8 1185.4 753.7 1190.2C756.5 1194.9 757 1201.4 758.2 1206.5C759.5 1211.5 760.7 1218.2 761.2 1220.6L761.2 1431.2"/><path d="M733.5 1150C734.9 1153.9 736.9 1166.1 741.8 1173.5C746.7 1181 758.2 1188.4 762.9 1194.7C767.6 1201 768.5 1206.5 770 1211.2C771.5 1215.9 771.5 1221 771.8 1222.9L771.8 1431.8" stroke-width="3.6"/><path d="M885.6 1153.3L832.4 1206.4"/><path d="M833.4 1182.5C830.4 1183 820.8 1183.5 815 1185.6C809.3 1187.6 801.6 1193.2 798.9 1194.8" stroke-width="1.8"/><path d="M761.5 1431.2L772 1432.9"/><path d="M744.7 1459.4L744.7 1420.6L755.3 1429.4" stroke-width="3"/><path d="M757 1433.8C757.9 1434.3 759.1 1436.2 762.3 1436.5C765.6 1436.8 774.1 1435.7 776.5 1435.6"/><path d="M829.4 1432.9L839.1 1425.9L839.1 1459.4"/><ellipse cx="869.4" cy="1281.2" rx="7.1" ry="15.9" transform="rotate(14 869.4 1281.2)"/></g>
<path d="M799.4 1226.5L817.1 1225.3" stroke-width="2.6"/>
<path d="M799.4 1237.1L817.1 1235.3" stroke-width="2.6"/>
<path d="M799.4 1247.6L817.1 1250" stroke-width="2.6"/>
<path d="M774.7 1246.5L818.2 1252.4L818.2 1286.5L774.7 1278.2L774.7 1246.5Z" fill="url(#h)" stroke-width="3.4"/>
<path d="M783.5 1250.2C782.8 1252.8 779.6 1260.6 779.4 1265.5C779.2 1270.5 781.9 1277.6 782.4 1280" stroke-width="2.6"/>
<path d="M794.7 1251.6C794 1254.2 790.8 1261.9 790.6 1266.9C790.4 1272 793 1279.3 793.5 1281.8" stroke-width="2.6"/>
<path d="M803.5 1252.7C802.8 1255.3 799.6 1262.9 799.4 1268C799.2 1273.1 801.9 1280.7 802.4 1283.3" stroke-width="2.6"/>
<path d="M812.4 1253.9C811.7 1256.4 808.4 1264 808.2 1269.2C808 1274.3 810.7 1282.1 811.2 1284.7" stroke-width="2.6"/>
<path d="M798.5 1348.2L814.4 1348.2" stroke-width="2.4"/>
<path d="M798.5 1360.6L814.4 1360.6" stroke-width="5"/>
<path d="M798.5 1390.9L814.4 1390.9" stroke-width="4.2"/>
<path d="M781.8 1411.4L814.4 1409.6" stroke-width="2"/>
<path d="M781.8 1414.6L814.4 1413.2" stroke-width="2"/>
<path d="M781.8 1426.2L814.4 1425.2" stroke-width="4"/>
<path d="M776.2 797.5L832.5 797.5L850 816.2L850 980L823.8 1007.5L786.2 1007.5L757.5 977.5L757.5 817.5L776.2 797.5Z" fill="url(#h)" stroke-width="4.2"/>
<path d="M786.2 842.5L786.2 1007.5"/>
<path d="M823.8 842.5L823.8 1007.5"/>
<path d="M757.5 817.5L786.2 842.5"/>
<path d="M850 816.2L823.8 842.5"/>
<path d="M786.2 842.5C789.4 841.2 798.8 835 805 835C811.2 835 820.6 841.2 823.8 842.5"/>
<path d="M776.5 735V822A28 9 0 0 0 832 822V735Z" fill="url(#h)" stroke-width="4.2"/>
<path d="M778.5 752C784.5 764 821 763.5 830 749.5M778.5 763.4C784.5 775.4 821 774.9 830 760.9M778.5 774.8C784.5 786.8 821 786.3 830 772.3M778.5 786.2C784.5 798.2 821 797.7 830 783.7M778.5 797.6C784.5 809.6 821 809.1 830 795.1M778.5 809C784.5 821 821 820.5 830 806.5M778.5 820.4C784.5 832.4 821 831.9 830 817.9" stroke-width="3"/>
<path d="M757.5 817.5L776.2 797.5" stroke-width="4.2"/>
<path d="M850 816.2L832.5 797.5" stroke-width="4.2"/>
<path d="M565 565.2L1151.2 696.5L1151.2 754.5L1139.5 766.3L1125.2 762.9L1094.9 783.9L1094.9 803.3L1077.3 817.6L484.3 681.2L484.3 619L565 565.2Z" fill="url(#h)" stroke-width="4.2"/>
<path d="M484.3 619L1079.8 759.6"/>
<path d="M1079.8 759.6L1077.3 817.6" stroke-width="2.8"/>
<path d="M1079.8 759.6L1148.7 700.7" stroke-width="2.6"/>
<path d="M1139.5 744.4L1139.5 766.3" stroke-width="2.6"/>
<ellipse cx="641.5" cy="615.7" rx="83" ry="20" transform="rotate(8.1 641.5 615.7)"/>
<ellipse cx="640" cy="609.5" rx="52.5" ry="32.5" fill="url(#h)"/>
<ellipse cx="640" cy="602" rx="52.5" ry="31" fill="url(#h)"/>
<path d="M622.2 565.2L658.3 565.2L680.2 584.6L680.2 610.6L657.5 627.4L624.7 627.4L601.1 610.6L602.8 584.6L622.2 565.2Z" fill="url(#h)" stroke-width="4.2"/>
<path d="M602.8 584.6L624.7 602.2L657.5 602.2L680.2 584.6"/>
<path d="M624.7 602.2L624.7 627.4"/>
<path d="M657.5 602.2L657.5 627.4"/>
<ellipse cx="639.8" cy="582.9" rx="31.1" ry="16"/>
<ellipse cx="987.3" cy="697.4" rx="83" ry="20" transform="rotate(8.1 987.3 697.4)"/>
<ellipse cx="985.8" cy="691.2" rx="52.5" ry="32.5" fill="url(#h)"/>
<ellipse cx="985.8" cy="683.7" rx="52.5" ry="31" fill="url(#h)"/>
<path d="M968 646.9L1004.1 646.9L1026 666.3L1026 692.3L1003.3 709.1L970.5 709.1L946.9 692.3L948.6 666.3L968 646.9Z" fill="url(#h)" stroke-width="4.2"/>
<path d="M948.6 666.3L970.5 683.9L1003.3 683.9L1026 666.3"/>
<path d="M970.5 683.9L970.5 709.1"/>
<path d="M1003.3 683.9L1003.3 709.1"/>
<ellipse cx="985.6" cy="664.6" rx="31.1" ry="16"/>
<path d="M750 619V651A56.3 35.3 0 0 0 862.6 651V619A56.3 35.3 0 0 0 750 619Z" fill="url(#h)" stroke-width="3"/>
<path d="M862.6 619A56.3 35.3 0 0 1 806.3 654.3A56.3 35.3 0 0 1 750 619" stroke-width="3"/>
<path d="M859.2 628.6A56.3 35.3 0 0 1 753.4 628.6" stroke-width="1.6"/>
<path d="M762.6 556.8L774.3 552.6L833.2 551.8L845 557.7L845 624L803.8 640.9L762.6 625.8L762.6 556.8Z" fill="url(#h)" stroke-width="3"/>
<path d="M762.6 587.1L803.8 598.8L845 587.9"/>
<path d="M803.8 598.8L803.8 640.9"/>
<path d="M834.9 569.4A31.1 16.8 0 0 1 803.8 586.2A31.1 16.8 0 0 1 772.7 569.4"/>
<path d="M776.5 345V578A27.5 10 0 0 0 831.5 578V345Z" fill="url(#h)" stroke-width="4.2"/>
<path d="M778.5 359.2C784.5 371.2 820.5 370.7 829.5 356.7M778.5 370.6C784.5 382.6 820.5 382.1 829.5 368.1M778.5 382C784.5 394 820.5 393.5 829.5 379.5M778.5 393.4C784.5 405.4 820.5 404.9 829.5 390.9M778.5 404.8C784.5 416.8 820.5 416.3 829.5 402.3M778.5 416.2C784.5 428.2 820.5 427.7 829.5 413.7M778.5 427.6C784.5 439.6 820.5 439.1 829.5 425.1M778.5 439C784.5 451 820.5 450.5 829.5 436.5M778.5 450.4C784.5 462.4 820.5 461.9 829.5 447.9M778.5 461.8C784.5 473.8 820.5 473.3 829.5 459.3M778.5 473.2C784.5 485.2 820.5 484.7 829.5 470.7M778.5 484.6C784.5 496.6 820.5 496.1 829.5 482.1M778.5 496C784.5 508 820.5 507.5 829.5 493.5M778.5 507.4C784.5 519.4 820.5 518.9 829.5 504.9M778.5 518.8C784.5 530.8 820.5 530.3 829.5 516.3M778.5 530.2C784.5 542.2 820.5 541.7 829.5 527.7M778.5 541.6C784.5 553.6 820.5 553.1 829.5 539.1M778.5 553C784.5 565 820.5 564.5 829.5 550.5M778.5 564.4C784.5 576.4 820.5 575.9 829.5 561.9M778.5 575.8C784.5 587.8 820.5 587.3 829.5 573.3" stroke-width="3"/>
<path d="M784.4 276.3L823.9 276.3L851.7 301.2L851.7 332.3L823.9 354.2L785.3 354.2L756.7 332.3L756.7 301.2L784.4 276.3Z" fill="url(#h)" stroke-width="4.2"/>
<path d="M756.7 301.2L785.3 321.4L823.9 321.4L851.7 301.2"/>
<path d="M785.3 321.4L785.3 354.2"/>
<path d="M823.9 321.4L823.9 354.2"/>
<ellipse cx="802.9" cy="297.8" rx="36.5" ry="20.6"/></g>
<path d="M391.7 228.7H1245.6V1662H391.7Z" stroke-width="7.3" stroke-linejoin="miter" stroke-linecap="butt"/>
<path d="M388.2 1658.6L378.5 1665.6H388.2Z" fill="#000" stroke="none"/>
</svg></body></html>
